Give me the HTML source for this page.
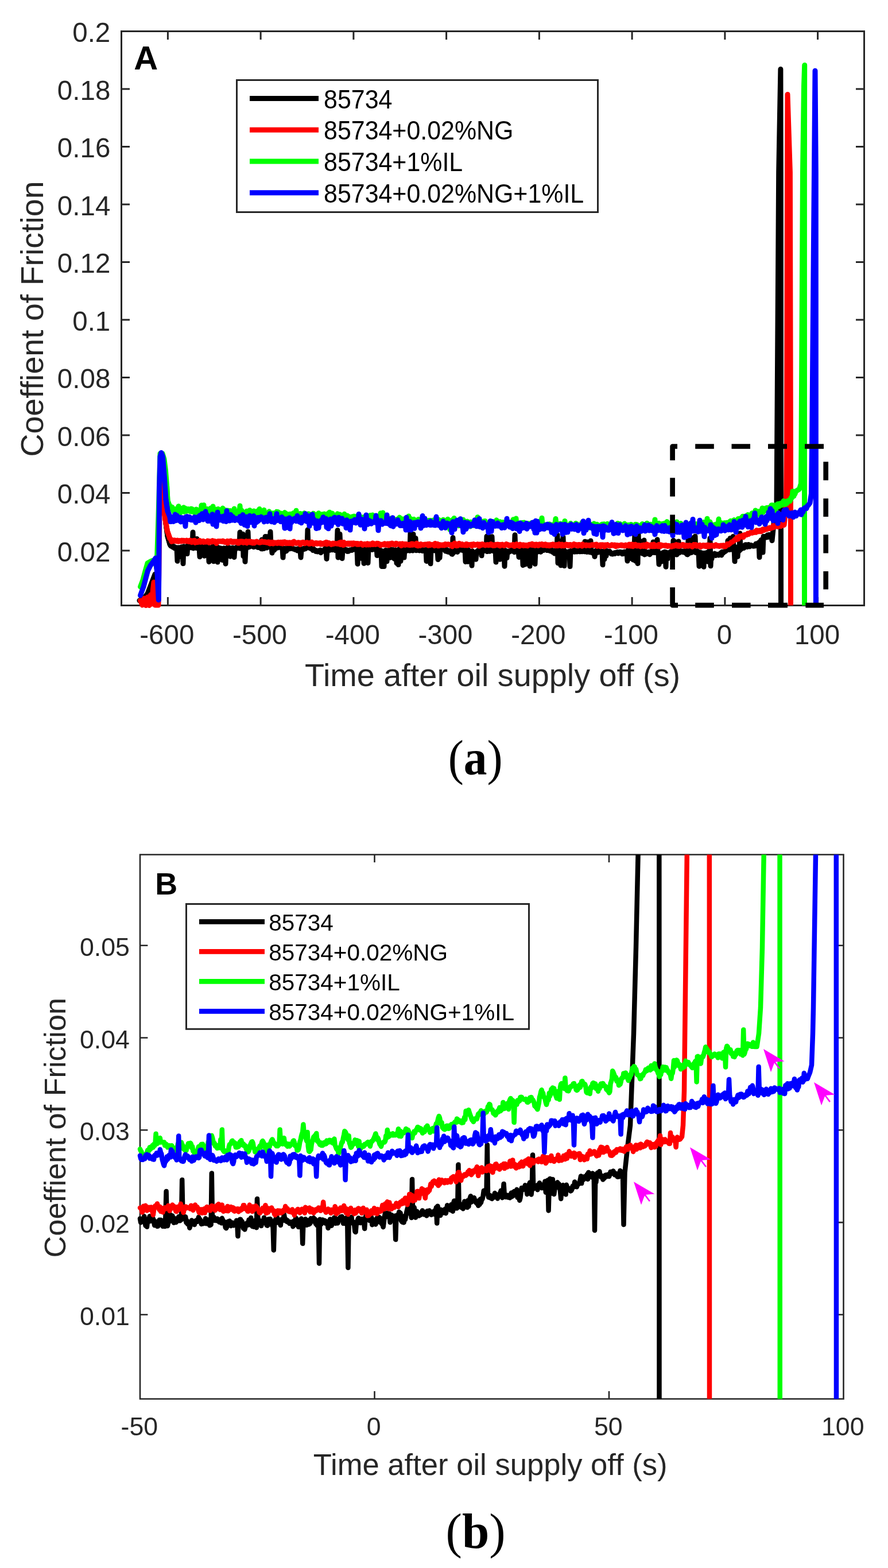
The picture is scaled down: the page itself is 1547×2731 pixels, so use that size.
<!DOCTYPE html>
<html><head><meta charset="utf-8"><title>Coefficient of friction vs time</title>
<style>html,body{margin:0;padding:0;background:#fff;}svg{display:block;}</style></head>
<body>
<svg width="1547" height="2731" viewBox="0 0 1547 2731">
<rect width="1547" height="2731" fill="#fff"/>
<defs><clipPath id="ca"><rect x="200" y="54.5" width="1320" height="1000.0"/></clipPath><clipPath id="cb"><rect x="230" y="1488.5" width="1239.5" height="948"/></clipPath></defs>
<path d="M211.5,54.5 H1505.5 V1054.5 H211.5 Z M292.4,1054.5 v-14.5 M292.4,54.5 v14.5 M454.1,1054.5 v-14.5 M454.1,54.5 v14.5 M615.9,1054.5 v-14.5 M615.9,54.5 v14.5 M777.6,1054.5 v-14.5 M777.6,54.5 v14.5 M939.4,1054.5 v-14.5 M939.4,54.5 v14.5 M1101.1,1054.5 v-14.5 M1101.1,54.5 v14.5 M1262.9,1054.5 v-14.5 M1262.9,54.5 v14.5 M1424.6,1054.5 v-14.5 M1424.6,54.5 v14.5 M211.5,959.0 h14.5 M1505.5,959.0 h-14.5 M211.5,858.5 h14.5 M1505.5,858.5 h-14.5 M211.5,758.0 h14.5 M1505.5,758.0 h-14.5 M211.5,657.5 h14.5 M1505.5,657.5 h-14.5 M211.5,557.0 h14.5 M1505.5,557.0 h-14.5 M211.5,456.5 h14.5 M1505.5,456.5 h-14.5 M211.5,356.0 h14.5 M1505.5,356.0 h-14.5 M211.5,255.5 h14.5 M1505.5,255.5 h-14.5 M211.5,155.0 h14.5 M1505.5,155.0 h-14.5 M211.5,54.5 h14.5 M1505.5,54.5 h-14.5" fill="none" stroke="#262626" stroke-width="3"/>
<polyline points="243.0,1046.0 250.0,1043.0 257.0,1034.0 264.0,1016.0 270.0,1000.0 272.5,1052.0 275.0,1052.0 277.0,900.0 279.5,800.0 282.0,820.0 285.0,880.0 289.0,912.0 292.0,934.0 296.0,948.0 297.0,949.9 298.0,951.0 299.0,950.6" fill="none" stroke="#000" stroke-width="9" stroke-linejoin="round" stroke-linecap="round"/>
<g clip-path="url(#ca)"><polyline points="289.0,912.0 292.0,934.0 296.0,948.0 297.0,949.9 298.0,951.0 299.0,950.6 300.0,950.8 301.0,952.9 302.0,952.2 303.0,951.6 304.0,954.8 305.0,954.4 306.0,955.3 307.0,953.6 308.0,954.0 309.0,977.3 310.0,953.7 311.0,955.0 312.0,953.7 313.0,955.2 314.0,955.1 315.0,969.7 316.0,952.8 317.0,955.7 318.0,954.1 319.0,981.6 320.0,951.7 321.0,952.7 322.0,954.0 323.0,952.6 324.0,952.5 325.0,951.8 326.0,964.6 327.0,951.5 328.0,948.4 329.0,950.0 330.0,948.4 331.0,947.2 332.0,951.1 333.0,954.0 334.0,952.8 335.0,951.7 336.0,927.1 337.0,954.9 338.0,953.6 339.0,953.5 340.0,953.4 341.0,953.6 342.0,954.6 343.0,938.4 344.0,953.9 345.0,952.3 346.0,954.4 347.0,952.9 348.0,969.8 349.0,952.2 350.0,953.5 351.0,953.4 352.0,951.4 353.0,955.1 354.0,954.5 355.0,951.7 356.0,968.3 357.0,952.2 358.0,948.1 359.0,951.5 360.0,961.7 361.0,952.0 362.0,950.9 363.0,952.4 364.0,978.4 365.0,955.1 366.0,954.4 367.0,954.4 368.0,956.6 369.0,953.5 370.0,953.5 371.0,951.3 372.0,977.7 373.0,954.3 374.0,953.9 375.0,953.3 376.0,952.3 377.0,952.3 378.0,952.2 379.0,979.0 380.0,953.6 381.0,956.0 382.0,955.2 383.0,954.9 384.0,954.8 385.0,955.2 386.0,958.6 387.0,975.4 388.0,956.7 389.0,955.9 390.0,954.7 391.0,955.9 392.0,956.9 393.0,981.9 394.0,955.1 395.0,955.0 396.0,955.2 397.0,952.9 398.0,954.6 399.0,953.8 400.0,956.1 401.0,969.2 402.0,955.6 403.0,956.9 404.0,954.5 405.0,954.1 406.0,955.1 407.0,954.8 408.0,970.5 409.0,955.2 410.0,957.1 411.0,954.0 412.0,953.9 413.0,952.6 414.0,954.2 415.0,952.0 416.0,952.1 417.0,955.0 418.0,927.0 419.0,954.8 420.0,955.5 421.0,954.0 422.0,954.5 423.0,930.2 424.0,968.8 425.0,953.4 426.0,952.6 427.0,978.3 428.0,956.5 429.0,955.5 430.0,952.6 431.0,952.4 432.0,926.3 433.0,953.1 434.0,952.0 435.0,952.2 436.0,951.9 437.0,950.8 438.0,950.7 439.0,950.7 440.0,949.9 441.0,950.8 442.0,952.8 443.0,951.4 444.0,951.0 445.0,949.0 446.0,951.9 447.0,949.2 448.0,950.1 449.0,953.4 450.0,953.6 451.0,952.9 452.0,951.3 453.0,953.5 454.0,953.5 455.0,955.7 456.0,940.1 457.0,956.0 458.0,955.1 459.0,954.5 460.0,955.4 461.0,954.7 462.0,934.5 463.0,954.0 464.0,951.8 465.0,954.2 466.0,934.7 467.0,953.1 468.0,950.6 469.0,951.3 470.0,950.0 471.0,926.2 472.0,951.9 473.0,951.9 474.0,963.1 475.0,957.2 476.0,957.2 477.0,957.7 478.0,958.0 479.0,953.8 480.0,954.3 481.0,954.9 482.0,954.5 483.0,952.8 484.0,954.0 485.0,952.2 486.0,949.7 487.0,950.6 488.0,953.4 489.0,953.5 490.0,950.9 491.0,955.7 492.0,955.3 493.0,971.1 494.0,955.1 495.0,955.7 496.0,955.2 497.0,960.5 498.0,957.5 499.0,959.6 500.0,956.1 501.0,956.6 502.0,953.7 503.0,954.8 504.0,956.0 505.0,952.5 506.0,955.5 507.0,955.0 508.0,953.6 509.0,954.8 510.0,955.3 511.0,956.2 512.0,956.0 513.0,956.1 514.0,957.2 515.0,956.7 516.0,956.5 517.0,958.0 518.0,959.0 519.0,955.8 520.0,957.7 521.0,956.7 522.0,956.1 523.0,958.4 524.0,970.9 525.0,959.0 526.0,955.9 527.0,957.3 528.0,956.3 529.0,955.2 530.0,956.5 531.0,955.1 532.0,955.7 533.0,954.4 534.0,952.6 535.0,953.5 536.0,922.7 537.0,954.0 538.0,951.5 539.0,953.3 540.0,951.7 541.0,955.4 542.0,953.7 543.0,953.4 544.0,956.3 545.0,958.4 546.0,955.6 547.0,956.7 548.0,957.8 549.0,957.9 550.0,960.4 551.0,958.9 552.0,959.1 553.0,960.9 554.0,959.2 555.0,960.8 556.0,959.0 557.0,958.8 558.0,958.1 559.0,962.7 560.0,959.4 561.0,959.7 562.0,959.0 563.0,958.8 564.0,958.3 565.0,960.3 566.0,956.1 567.0,955.0 568.0,955.4 569.0,973.4 570.0,957.6 571.0,957.6 572.0,955.3 573.0,954.7 574.0,956.0 575.0,958.2 576.0,952.7 577.0,957.0 578.0,954.9 579.0,957.7 580.0,955.0 581.0,956.0 582.0,954.5 583.0,955.2 584.0,958.4 585.0,957.7 586.0,956.1 587.0,955.4 588.0,923.6 589.0,970.9 590.0,955.8 591.0,955.5 592.0,930.3 593.0,953.7 594.0,954.9 595.0,954.7 596.0,972.7 597.0,957.9 598.0,955.8 599.0,955.5 600.0,956.9 601.0,956.8 602.0,957.1 603.0,958.5 604.0,957.7 605.0,960.4 606.0,959.9 607.0,960.2 608.0,959.4 609.0,958.3 610.0,957.7 611.0,958.3 612.0,957.6 613.0,958.3 614.0,957.6 615.0,955.5 616.0,957.1 617.0,954.9 618.0,955.5 619.0,955.7 620.0,953.6 621.0,956.6 622.0,956.9 623.0,982.3 624.0,956.5 625.0,956.7 626.0,956.1 627.0,957.0 628.0,956.4 629.0,957.1 630.0,972.6 631.0,957.0 632.0,956.7 633.0,956.1 634.0,981.3 635.0,970.1 636.0,953.7 637.0,956.3 638.0,956.0 639.0,956.1 640.0,956.3 641.0,980.4 642.0,955.6 643.0,956.9 644.0,956.7 645.0,956.4 646.0,954.1 647.0,956.7 648.0,957.4 649.0,957.1 650.0,956.0 651.0,953.5 652.0,956.7 653.0,955.2 654.0,952.0 655.0,955.6 656.0,953.1 657.0,967.6 658.0,954.0 659.0,956.4 660.0,954.8 661.0,956.6 662.0,959.6 663.0,960.4 664.0,959.2 665.0,986.5 666.0,959.7 667.0,960.1 668.0,961.2 669.0,986.6 670.0,960.2 671.0,977.1 672.0,958.3 673.0,958.9 674.0,977.7 675.0,959.1 676.0,959.4 677.0,958.4 678.0,957.7 679.0,958.8 680.0,971.3 681.0,956.7 682.0,959.8 683.0,959.2 684.0,960.0 685.0,957.6 686.0,959.5 687.0,973.4 688.0,959.4 689.0,957.8 690.0,960.3 691.0,980.9 692.0,960.7 693.0,959.1 694.0,983.6 695.0,960.3 696.0,955.4 697.0,958.6 698.0,977.2 699.0,959.2 700.0,960.4 701.0,959.5 702.0,958.3 703.0,958.1 704.0,971.1 705.0,956.7 706.0,957.2 707.0,958.3 708.0,959.5 709.0,956.6 710.0,956.7 711.0,957.2 712.0,958.8 713.0,957.1 714.0,959.2 715.0,927.3 716.0,957.2 717.0,957.3 718.0,958.7 719.0,959.1 720.0,930.6 721.0,956.4 722.0,958.0 723.0,956.6 724.0,937.6 725.0,958.7 726.0,958.0 727.0,957.9 728.0,956.6 729.0,958.5 730.0,957.1 731.0,959.1 732.0,956.7 733.0,957.0 734.0,958.6 735.0,957.6 736.0,959.6 737.0,958.9 738.0,957.3 739.0,958.5 740.0,957.9 741.0,959.5 742.0,957.4 743.0,977.5 744.0,959.6 745.0,960.9 746.0,960.5 747.0,957.9 748.0,958.0 749.0,959.8 750.0,981.8 751.0,956.6 752.0,958.0 753.0,958.5 754.0,956.8 755.0,955.8 756.0,956.1 757.0,958.9 758.0,957.0 759.0,957.5 760.0,957.8 761.0,958.1 762.0,956.6 763.0,974.6 764.0,955.4 765.0,955.9 766.0,971.5 767.0,957.3 768.0,955.6 769.0,954.4 770.0,954.9 771.0,955.3 772.0,956.7 773.0,953.9 774.0,954.8 775.0,955.9 776.0,959.9 777.0,958.0 778.0,957.2 779.0,958.8 780.0,961.2 781.0,958.8 782.0,959.2 783.0,961.8 784.0,961.4 785.0,962.2 786.0,961.3 787.0,965.0 788.0,965.3 789.0,936.6 790.0,962.7 791.0,958.3 792.0,961.0 793.0,959.1 794.0,959.1 795.0,958.6 796.0,956.8 797.0,961.4 798.0,957.5 799.0,956.0 800.0,956.4 801.0,956.0 802.0,956.3 803.0,953.6 804.0,958.1 805.0,956.8 806.0,957.8 807.0,958.9 808.0,956.6 809.0,954.6 810.0,956.2 811.0,978.4 812.0,957.5 813.0,958.6 814.0,956.3 815.0,978.2 816.0,957.7 817.0,960.4 818.0,960.2 819.0,960.2 820.0,960.8 821.0,960.5 822.0,985.1 823.0,959.7 824.0,962.1 825.0,964.9 826.0,965.4 827.0,964.0 828.0,962.6 829.0,974.2 830.0,962.5 831.0,960.0 832.0,959.4 833.0,958.5 834.0,958.5 835.0,957.2 836.0,957.2 837.0,955.3 838.0,955.7 839.0,967.8 840.0,955.6 841.0,955.8 842.0,957.2 843.0,957.9 844.0,955.9 845.0,957.5 846.0,959.4 847.0,959.0 848.0,934.0 849.0,960.6 850.0,957.6 851.0,958.5 852.0,934.4 853.0,960.2 854.0,955.6 855.0,957.2 856.0,957.3 857.0,934.8 858.0,958.6 859.0,959.6 860.0,955.6 861.0,958.3 862.0,956.6 863.0,955.8 864.0,979.0 865.0,954.7 866.0,952.9 867.0,954.7 868.0,952.9 869.0,954.4 870.0,956.4 871.0,974.3 872.0,959.3 873.0,957.6 874.0,956.5 875.0,958.2 876.0,958.6 877.0,958.9 878.0,961.7 879.0,986.2 880.0,958.4 881.0,961.7 882.0,960.5 883.0,971.5 884.0,960.4 885.0,960.9 886.0,959.9 887.0,961.3 888.0,960.0 889.0,959.9 890.0,960.0 891.0,957.6 892.0,959.3 893.0,959.2 894.0,959.8 895.0,957.8 896.0,961.7 897.0,931.7 898.0,958.1 899.0,957.4 900.0,958.9 901.0,958.9 902.0,957.8 903.0,958.6 904.0,970.4 905.0,958.6 906.0,956.6 907.0,957.8 908.0,959.4 909.0,961.8 910.0,957.4 911.0,984.4 912.0,958.2 913.0,960.6 914.0,958.3 915.0,982.9 916.0,960.4 917.0,959.4 918.0,959.4 919.0,959.8 920.0,957.4 921.0,957.9 922.0,959.0 923.0,986.0 924.0,958.7 925.0,956.4 926.0,957.8 927.0,959.4 928.0,959.2 929.0,973.3 930.0,957.5 931.0,959.6 932.0,982.2 933.0,957.4 934.0,958.0 935.0,961.1 936.0,959.6 937.0,960.9 938.0,958.6 939.0,960.1 940.0,957.8 941.0,958.1 942.0,961.3 943.0,958.7 944.0,956.8 945.0,957.1 946.0,957.4 947.0,958.5 948.0,956.3 949.0,954.7 950.0,956.5 951.0,956.9 952.0,957.0 953.0,958.6 954.0,957.3 955.0,957.9 956.0,955.4 957.0,958.0 958.0,959.5 959.0,957.8 960.0,957.1 961.0,958.0 962.0,961.2 963.0,958.7 964.0,960.8 965.0,962.6 966.0,964.1 967.0,962.6 968.0,963.2 969.0,962.1 970.0,962.2 971.0,932.1 972.0,980.7 973.0,960.9 974.0,961.7 975.0,958.9 976.0,942.8 977.0,984.8 978.0,957.6 979.0,959.1 980.0,957.8 981.0,935.4 982.0,962.7 983.0,985.5 984.0,959.9 985.0,961.4 986.0,960.9 987.0,961.0 988.0,962.8 989.0,968.1 990.0,962.1 991.0,960.6 992.0,962.4 993.0,986.6 994.0,959.6 995.0,960.8 996.0,961.3 997.0,960.4 998.0,960.9 999.0,959.5 1000.0,957.3 1001.0,961.2 1002.0,960.8 1003.0,960.0 1004.0,959.8 1005.0,960.9 1006.0,958.9 1007.0,958.4 1008.0,959.0 1009.0,960.7 1010.0,957.3 1011.0,960.7 1012.0,958.3 1013.0,957.7 1014.0,960.7 1015.0,958.9 1016.0,957.4 1017.0,958.8 1018.0,960.7 1019.0,943.2 1020.0,959.4 1021.0,960.7 1022.0,961.4 1023.0,944.0 1024.0,961.3 1025.0,961.1 1026.0,960.6 1027.0,960.9 1028.0,961.9 1029.0,941.9 1030.0,961.3 1031.0,961.2 1032.0,963.0 1033.0,961.6 1034.0,962.2 1035.0,962.4 1036.0,969.5 1037.0,963.4 1038.0,959.1 1039.0,961.0 1040.0,959.4 1041.0,962.2 1042.0,962.1 1043.0,957.4 1044.0,958.7 1045.0,960.9 1046.0,961.1 1047.0,961.1 1048.0,960.1 1049.0,960.8 1050.0,983.8 1051.0,960.2 1052.0,961.7 1053.0,974.0 1054.0,961.3 1055.0,959.2 1056.0,968.2 1057.0,960.4 1058.0,959.6 1059.0,961.6 1060.0,960.3 1061.0,960.7 1062.0,960.2 1063.0,962.6 1064.0,963.7 1065.0,964.8 1066.0,963.6 1067.0,965.0 1068.0,963.6 1069.0,963.3 1070.0,964.1 1071.0,964.6 1072.0,962.6 1073.0,962.7 1074.0,962.6 1075.0,962.8 1076.0,961.4 1077.0,963.9 1078.0,962.0 1079.0,963.1 1080.0,961.3 1081.0,962.8 1082.0,962.8 1083.0,961.7 1084.0,964.8 1085.0,962.6 1086.0,964.4 1087.0,963.3 1088.0,961.2 1089.0,961.5 1090.0,962.5 1091.0,961.7 1092.0,961.4 1093.0,977.0 1094.0,958.4 1095.0,960.1 1096.0,957.2 1097.0,960.3 1098.0,972.6 1099.0,958.3 1100.0,958.7 1101.0,959.1 1102.0,956.6 1103.0,975.1 1104.0,956.6 1105.0,955.1 1106.0,928.3 1107.0,977.0 1108.0,956.9 1109.0,959.6 1110.0,957.4 1111.0,981.5 1112.0,929.4 1113.0,960.5 1114.0,961.8 1115.0,942.6 1116.0,962.2 1117.0,962.5 1118.0,961.6 1119.0,964.0 1120.0,963.3 1121.0,964.7 1122.0,941.1 1123.0,965.9 1124.0,961.1 1125.0,963.3 1126.0,964.8 1127.0,963.2 1128.0,962.7 1129.0,963.2 1130.0,961.4 1131.0,963.1 1132.0,965.8 1133.0,963.8 1134.0,960.6 1135.0,960.6 1136.0,961.0 1137.0,962.5 1138.0,943.9 1139.0,960.2 1140.0,962.4 1141.0,962.6 1142.0,961.2 1143.0,960.4 1144.0,960.0 1145.0,939.8 1146.0,959.6 1147.0,963.6 1148.0,983.0 1149.0,963.4 1150.0,965.3 1151.0,964.5 1152.0,978.3 1153.0,964.2 1154.0,964.7 1155.0,962.3 1156.0,962.1 1157.0,963.2 1158.0,961.3 1159.0,965.3 1160.0,987.3 1161.0,962.0 1162.0,963.1 1163.0,973.4 1164.0,963.7 1165.0,963.9 1166.0,963.3 1167.0,965.1 1168.0,960.8 1169.0,963.7 1170.0,962.8 1171.0,963.9 1172.0,964.0 1173.0,941.2 1174.0,963.0 1175.0,964.9 1176.0,964.2 1177.0,943.9 1178.0,965.9 1179.0,966.0 1180.0,960.8 1181.0,962.9 1182.0,943.0 1183.0,963.0 1184.0,962.0 1185.0,961.2 1186.0,960.6 1187.0,960.7 1188.0,960.1 1189.0,961.5 1190.0,960.1 1191.0,960.7 1192.0,960.3 1193.0,962.5 1194.0,962.0 1195.0,963.6 1196.0,950.2 1197.0,965.6 1198.0,965.9 1199.0,940.3 1200.0,964.0 1201.0,963.0 1202.0,962.1 1203.0,962.8 1204.0,959.7 1205.0,962.2 1206.0,937.1 1207.0,958.1 1208.0,957.8 1209.0,958.2 1210.0,959.9 1211.0,934.1 1212.0,962.4 1213.0,960.5 1214.0,959.2 1215.0,961.8 1216.0,960.8 1217.0,963.9 1218.0,986.2 1219.0,964.6 1220.0,962.0 1221.0,962.7 1222.0,965.9 1223.0,963.9 1224.0,963.4 1225.0,964.7 1226.0,987.2 1227.0,964.9 1228.0,963.3 1229.0,963.5 1230.0,964.0 1231.0,962.6 1232.0,962.2 1233.0,978.2 1234.0,962.6 1235.0,964.0 1236.0,964.4 1237.0,937.4 1238.0,985.7 1239.0,964.8 1240.0,973.1 1241.0,966.0 1242.0,967.0 1243.0,965.2 1244.0,965.0 1245.0,964.2 1246.0,965.3 1247.0,967.5 1248.0,966.7 1249.0,965.2 1250.0,966.0 1251.0,966.4 1252.0,966.9 1253.0,965.3 1254.0,965.7 1255.0,963.5 1256.0,963.9 1257.0,966.9 1258.0,961.3 1259.0,963.0 1260.0,963.1 1261.0,961.7 1262.0,960.5 1263.0,960.8 1264.0,960.0 1265.0,959.0 1266.0,955.9 1267.0,957.8 1268.0,941.5 1269.0,956.7 1270.0,957.4 1271.0,957.6 1272.0,937.4 1273.0,955.4 1274.0,957.0 1275.0,957.0 1276.0,956.6 1277.0,934.5 1278.0,954.3 1279.0,953.9 1280.0,977.7 1281.0,952.5 1282.0,955.1 1283.0,954.7 1284.0,955.5 1285.0,969.4 1286.0,955.9 1287.0,957.6 1288.0,959.3 1289.0,929.0 1290.0,957.2 1291.0,956.2 1292.0,954.5 1293.0,955.3 1294.0,953.6 1295.0,953.8 1296.0,954.5 1297.0,951.3 1298.0,949.0 1299.0,949.8 1300.0,948.9 1301.0,949.2 1302.0,952.4 1303.0,950.9 1304.0,948.5 1305.0,951.3 1306.0,952.0 1307.0,949.8 1308.0,949.4 1309.0,949.7 1310.0,950.3 1311.0,950.7 1312.0,951.2 1313.0,951.2 1314.0,951.0 1315.0,951.1 1316.0,950.0 1317.0,946.9 1318.0,948.5 1319.0,948.9 1320.0,947.3 1321.0,947.8 1322.0,944.8 1323.0,970.6 1324.0,944.6 1325.0,942.3 1326.0,940.5 1327.0,940.1 1328.0,939.8 1329.0,962.0 1330.0,934.2 1331.0,935.9 1332.0,935.7 1333.0,934.4 1334.0,935.4 1335.0,936.1 1336.0,933.3 1337.0,931.9 1338.0,935.4 1339.0,932.2 1340.0,931.3 1341.0,933.3 1342.0,933.7 1343.0,932.4 1344.0,934.4 1345.0,941.6 1348.0,912.0 1350.0,890.0 1353.0,880.0 1356.7,300.0 1359.9,120.5 1360.3,300.0 1360.4,780.0 1360.5,1070.0" fill="none" stroke="#000" stroke-width="9" stroke-linejoin="round" stroke-linecap="round"/></g>
<polyline points="244.5,1046.0 248.0,1054.0 251.0,1042.0 254.0,1054.5 257.0,1040.0 260.0,1054.5 262.5,1036.0 264.5,1052.0 266.5,1026.0 268.0,1014.0 270.5,1054.0 276.0,1054.0 278.0,900.0 280.5,805.0 283.5,818.0 285.5,880.0 288.0,905.0 291.5,925.0 296.0,938.0 297.0,938.9 298.0,939.9 299.0,943.3" fill="none" stroke="#f00" stroke-width="9" stroke-linejoin="round" stroke-linecap="round"/>
<g clip-path="url(#ca)"><polyline points="288.0,905.0 291.5,925.0 296.0,938.0 297.0,938.9 298.0,939.9 299.0,943.3 300.0,940.5 301.0,942.2 302.0,942.6 303.0,942.7 304.0,940.8 305.0,941.8 306.0,942.2 307.0,942.9 308.0,941.5 309.0,941.0 310.0,943.2 311.0,943.3 312.0,942.6 313.0,941.6 314.0,942.7 315.0,942.4 316.0,943.1 317.0,941.0 318.0,942.4 319.0,942.2 320.0,941.2 321.0,942.6 322.0,942.4 323.0,942.0 324.0,942.8 325.0,941.0 326.0,942.4 327.0,942.9 328.0,942.8 329.0,943.6 330.0,941.3 331.0,941.0 332.0,942.8 333.0,943.0 334.0,944.7 335.0,943.2 336.0,941.8 337.0,943.5 338.0,941.8 339.0,941.2 340.0,945.3 341.0,943.0 342.0,943.4 343.0,943.3 344.0,944.6 345.0,943.1 346.0,944.0 347.0,941.8 348.0,941.4 349.0,944.3 350.0,944.3 351.0,943.4 352.0,943.1 353.0,943.1 354.0,942.3 355.0,944.5 356.0,943.6 357.0,943.5 358.0,943.4 359.0,944.1 360.0,943.6 361.0,943.8 362.0,941.9 363.0,943.6 364.0,945.3 365.0,942.6 366.0,943.0 367.0,944.1 368.0,944.1 369.0,943.8 370.0,941.6 371.0,943.7 372.0,942.1 373.0,942.5 374.0,943.8 375.0,943.0 376.0,944.1 377.0,946.5 378.0,944.1 379.0,944.1 380.0,942.5 381.0,942.8 382.0,942.4 383.0,942.9 384.0,942.4 385.0,942.8 386.0,943.3 387.0,942.5 388.0,942.1 389.0,942.2 390.0,944.0 391.0,943.7 392.0,944.6 393.0,944.7 394.0,943.3 395.0,944.3 396.0,942.2 397.0,946.0 398.0,944.9 399.0,943.5 400.0,942.6 401.0,944.1 402.0,941.9 403.0,943.0 404.0,944.6 405.0,943.9 406.0,943.4 407.0,944.8 408.0,942.9 409.0,944.2 410.0,943.4 411.0,943.1 412.0,944.4 413.0,943.0 414.0,945.9 415.0,943.4 416.0,946.0 417.0,943.0 418.0,944.7 419.0,942.9 420.0,942.8 421.0,944.3 422.0,944.8 423.0,942.9 424.0,945.4 425.0,943.4 426.0,944.3 427.0,944.6 428.0,944.8 429.0,942.5 430.0,945.9 431.0,944.9 432.0,943.9 433.0,943.3 434.0,942.7 435.0,943.0 436.0,944.9 437.0,944.1 438.0,943.3 439.0,943.9 440.0,946.0 441.0,944.1 442.0,943.9 443.0,945.9 444.0,945.0 445.0,944.6 446.0,943.9 447.0,943.0 448.0,943.4 449.0,944.1 450.0,944.4 451.0,945.0 452.0,945.2 453.0,944.9 454.0,944.9 455.0,943.7 456.0,942.6 457.0,944.2 458.0,943.8 459.0,944.1 460.0,944.5 461.0,943.6 462.0,943.7 463.0,944.8 464.0,945.0 465.0,944.2 466.0,945.4 467.0,944.7 468.0,943.9 469.0,945.0 470.0,946.9 471.0,944.3 472.0,946.2 473.0,946.4 474.0,946.5 475.0,944.2 476.0,947.1 477.0,945.2 478.0,944.9 479.0,944.9 480.0,945.8 481.0,945.2 482.0,945.0 483.0,946.5 484.0,944.5 485.0,944.2 486.0,946.0 487.0,946.0 488.0,946.4 489.0,944.2 490.0,946.4 491.0,945.8 492.0,947.1 493.0,944.1 494.0,945.6 495.0,945.1 496.0,943.8 497.0,944.7 498.0,946.6 499.0,945.0 500.0,944.8 501.0,946.4 502.0,946.5 503.0,946.5 504.0,944.8 505.0,945.5 506.0,946.6 507.0,944.9 508.0,944.9 509.0,946.5 510.0,947.2 511.0,944.5 512.0,943.1 513.0,944.2 514.0,944.7 515.0,945.6 516.0,946.4 517.0,945.6 518.0,945.1 519.0,945.9 520.0,944.8 521.0,945.8 522.0,945.2 523.0,948.5 524.0,946.7 525.0,945.0 526.0,944.9 527.0,945.5 528.0,944.3 529.0,945.2 530.0,945.2 531.0,946.8 532.0,945.6 533.0,945.2 534.0,944.7 535.0,944.8 536.0,946.0 537.0,945.8 538.0,947.2 539.0,945.5 540.0,947.2 541.0,946.4 542.0,946.1 543.0,944.1 544.0,944.9 545.0,946.9 546.0,947.6 547.0,946.4 548.0,947.0 549.0,945.8 550.0,945.9 551.0,945.6 552.0,947.3 553.0,946.6 554.0,946.1 555.0,946.0 556.0,946.9 557.0,946.7 558.0,945.5 559.0,948.1 560.0,946.7 561.0,946.4 562.0,947.9 563.0,947.5 564.0,946.4 565.0,947.0 566.0,945.4 567.0,945.9 568.0,944.3 569.0,947.8 570.0,944.7 571.0,947.2 572.0,945.7 573.0,945.6 574.0,946.4 575.0,946.9 576.0,947.3 577.0,948.4 578.0,947.0 579.0,947.6 580.0,946.1 581.0,947.4 582.0,946.9 583.0,946.3 584.0,946.7 585.0,946.7 586.0,947.0 587.0,947.2 588.0,946.3 589.0,946.1 590.0,947.6 591.0,945.2 592.0,946.3 593.0,948.4 594.0,944.2 595.0,946.2 596.0,947.6 597.0,945.3 598.0,949.6 599.0,944.4 600.0,948.4 601.0,948.6 602.0,947.9 603.0,946.8 604.0,947.4 605.0,946.2 606.0,947.9 607.0,946.0 608.0,946.8 609.0,948.1 610.0,946.0 611.0,946.8 612.0,947.3 613.0,945.9 614.0,948.4 615.0,947.6 616.0,945.7 617.0,947.2 618.0,946.5 619.0,946.6 620.0,947.4 621.0,946.6 622.0,948.3 623.0,946.6 624.0,948.3 625.0,947.3 626.0,948.2 627.0,946.9 628.0,946.9 629.0,946.3 630.0,948.0 631.0,948.4 632.0,949.6 633.0,948.8 634.0,947.8 635.0,947.3 636.0,947.9 637.0,947.5 638.0,949.0 639.0,948.5 640.0,946.8 641.0,946.9 642.0,949.0 643.0,948.0 644.0,947.4 645.0,948.9 646.0,947.3 647.0,947.4 648.0,947.3 649.0,945.8 650.0,948.6 651.0,946.6 652.0,947.2 653.0,947.1 654.0,948.5 655.0,947.8 656.0,947.9 657.0,946.2 658.0,947.8 659.0,946.4 660.0,948.2 661.0,948.3 662.0,947.9 663.0,950.0 664.0,948.5 665.0,948.6 666.0,948.1 667.0,947.8 668.0,949.0 669.0,949.1 670.0,946.7 671.0,949.1 672.0,948.6 673.0,949.1 674.0,948.6 675.0,946.9 676.0,947.0 677.0,950.0 678.0,948.4 679.0,946.8 680.0,948.5 681.0,947.9 682.0,946.4 683.0,946.0 684.0,946.7 685.0,948.5 686.0,948.2 687.0,948.1 688.0,948.6 689.0,948.9 690.0,946.2 691.0,948.1 692.0,947.6 693.0,947.2 694.0,947.9 695.0,948.3 696.0,948.2 697.0,947.0 698.0,948.0 699.0,950.5 700.0,947.4 701.0,946.8 702.0,948.8 703.0,949.1 704.0,949.0 705.0,947.4 706.0,949.5 707.0,947.7 708.0,947.4 709.0,947.9 710.0,948.4 711.0,949.2 712.0,949.2 713.0,948.5 714.0,949.5 715.0,948.6 716.0,949.4 717.0,947.1 718.0,947.0 719.0,949.3 720.0,947.2 721.0,948.3 722.0,948.5 723.0,948.1 724.0,948.1 725.0,950.0 726.0,946.0 727.0,949.5 728.0,950.9 729.0,948.6 730.0,948.6 731.0,949.3 732.0,950.4 733.0,947.4 734.0,948.7 735.0,948.4 736.0,949.1 737.0,948.8 738.0,949.3 739.0,948.2 740.0,948.6 741.0,947.9 742.0,947.9 743.0,948.5 744.0,948.5 745.0,947.4 746.0,950.2 747.0,948.5 748.0,947.2 749.0,949.7 750.0,947.9 751.0,949.1 752.0,948.6 753.0,948.9 754.0,948.8 755.0,948.1 756.0,948.7 757.0,950.7 758.0,946.4 759.0,948.7 760.0,949.1 761.0,947.6 762.0,947.3 763.0,950.8 764.0,948.3 765.0,950.7 766.0,949.2 767.0,948.7 768.0,949.1 769.0,949.3 770.0,949.9 771.0,949.1 772.0,948.8 773.0,948.9 774.0,950.0 775.0,949.5 776.0,947.7 777.0,948.1 778.0,949.0 779.0,948.1 780.0,948.3 781.0,947.7 782.0,948.4 783.0,949.1 784.0,949.7 785.0,948.7 786.0,950.8 787.0,948.6 788.0,951.9 789.0,949.7 790.0,949.2 791.0,948.2 792.0,945.9 793.0,948.6 794.0,948.9 795.0,950.7 796.0,947.4 797.0,950.6 798.0,948.5 799.0,949.5 800.0,946.2 801.0,948.9 802.0,948.4 803.0,949.4 804.0,948.9 805.0,947.6 806.0,949.7 807.0,949.5 808.0,949.4 809.0,949.8 810.0,949.9 811.0,948.8 812.0,947.4 813.0,947.4 814.0,950.1 815.0,949.5 816.0,948.9 817.0,948.4 818.0,948.8 819.0,948.8 820.0,948.5 821.0,948.1 822.0,951.0 823.0,949.0 824.0,948.2 825.0,947.5 826.0,948.1 827.0,949.5 828.0,949.6 829.0,948.6 830.0,948.9 831.0,948.5 832.0,947.7 833.0,950.1 834.0,949.2 835.0,951.3 836.0,948.1 837.0,948.7 838.0,949.7 839.0,948.6 840.0,947.5 841.0,947.9 842.0,949.0 843.0,949.2 844.0,948.8 845.0,949.9 846.0,949.9 847.0,949.2 848.0,948.9 849.0,948.6 850.0,949.4 851.0,949.8 852.0,948.9 853.0,949.3 854.0,948.6 855.0,947.5 856.0,947.9 857.0,949.7 858.0,949.3 859.0,950.5 860.0,949.0 861.0,949.8 862.0,950.2 863.0,949.9 864.0,948.3 865.0,948.7 866.0,949.0 867.0,947.9 868.0,949.4 869.0,949.9 870.0,948.4 871.0,950.9 872.0,948.6 873.0,948.7 874.0,948.7 875.0,948.2 876.0,949.4 877.0,949.0 878.0,950.6 879.0,949.6 880.0,949.5 881.0,948.7 882.0,947.5 883.0,948.9 884.0,948.1 885.0,949.9 886.0,948.9 887.0,950.6 888.0,949.7 889.0,949.8 890.0,949.2 891.0,949.2 892.0,949.6 893.0,949.9 894.0,948.3 895.0,949.5 896.0,951.6 897.0,948.9 898.0,948.7 899.0,948.3 900.0,947.6 901.0,950.2 902.0,949.1 903.0,949.3 904.0,950.9 905.0,951.5 906.0,948.1 907.0,950.1 908.0,949.7 909.0,949.4 910.0,949.5 911.0,949.0 912.0,950.7 913.0,949.7 914.0,949.4 915.0,950.3 916.0,950.0 917.0,949.5 918.0,949.4 919.0,950.9 920.0,949.6 921.0,949.0 922.0,948.3 923.0,948.8 924.0,948.1 925.0,949.2 926.0,949.4 927.0,947.1 928.0,949.2 929.0,949.8 930.0,949.3 931.0,948.2 932.0,950.4 933.0,948.5 934.0,947.9 935.0,948.1 936.0,949.2 937.0,950.2 938.0,950.4 939.0,949.4 940.0,948.0 941.0,948.6 942.0,948.3 943.0,949.0 944.0,947.4 945.0,949.3 946.0,949.9 947.0,949.1 948.0,949.7 949.0,948.3 950.0,947.8 951.0,948.6 952.0,950.4 953.0,950.3 954.0,948.8 955.0,950.5 956.0,949.0 957.0,950.8 958.0,949.8 959.0,948.8 960.0,950.1 961.0,948.5 962.0,948.4 963.0,947.9 964.0,949.6 965.0,949.3 966.0,949.3 967.0,948.9 968.0,950.8 969.0,948.9 970.0,948.6 971.0,950.6 972.0,950.8 973.0,949.7 974.0,947.6 975.0,948.8 976.0,950.0 977.0,949.4 978.0,950.9 979.0,948.0 980.0,950.1 981.0,948.8 982.0,950.7 983.0,949.3 984.0,950.5 985.0,948.8 986.0,948.0 987.0,948.3 988.0,948.8 989.0,948.4 990.0,950.7 991.0,950.8 992.0,949.7 993.0,948.4 994.0,949.4 995.0,948.8 996.0,950.9 997.0,949.8 998.0,950.0 999.0,949.1 1000.0,947.5 1001.0,948.7 1002.0,948.4 1003.0,949.9 1004.0,949.6 1005.0,948.7 1006.0,949.1 1007.0,951.1 1008.0,948.6 1009.0,948.6 1010.0,949.3 1011.0,948.9 1012.0,949.1 1013.0,950.1 1014.0,951.3 1015.0,947.8 1016.0,949.6 1017.0,949.6 1018.0,949.5 1019.0,949.4 1020.0,949.3 1021.0,950.6 1022.0,949.1 1023.0,949.5 1024.0,949.6 1025.0,949.7 1026.0,949.5 1027.0,950.6 1028.0,949.6 1029.0,949.8 1030.0,949.6 1031.0,948.7 1032.0,948.8 1033.0,948.6 1034.0,949.9 1035.0,949.0 1036.0,948.6 1037.0,949.9 1038.0,950.2 1039.0,947.9 1040.0,951.4 1041.0,949.7 1042.0,949.6 1043.0,950.8 1044.0,949.8 1045.0,949.1 1046.0,951.9 1047.0,948.7 1048.0,949.6 1049.0,950.6 1050.0,948.7 1051.0,949.7 1052.0,950.1 1053.0,952.2 1054.0,948.9 1055.0,949.7 1056.0,950.4 1057.0,949.9 1058.0,948.6 1059.0,950.2 1060.0,949.9 1061.0,950.3 1062.0,950.9 1063.0,950.8 1064.0,950.2 1065.0,950.1 1066.0,948.7 1067.0,949.7 1068.0,950.1 1069.0,949.4 1070.0,949.9 1071.0,949.0 1072.0,951.4 1073.0,952.0 1074.0,949.5 1075.0,950.3 1076.0,949.6 1077.0,951.1 1078.0,950.3 1079.0,950.0 1080.0,949.7 1081.0,950.0 1082.0,948.9 1083.0,950.6 1084.0,949.2 1085.0,950.5 1086.0,950.1 1087.0,951.0 1088.0,949.9 1089.0,951.0 1090.0,949.0 1091.0,950.6 1092.0,949.7 1093.0,950.2 1094.0,950.0 1095.0,950.9 1096.0,948.0 1097.0,950.3 1098.0,948.5 1099.0,951.2 1100.0,948.0 1101.0,949.0 1102.0,948.3 1103.0,951.7 1104.0,948.7 1105.0,950.1 1106.0,949.5 1107.0,948.2 1108.0,949.7 1109.0,950.7 1110.0,949.9 1111.0,951.0 1112.0,949.7 1113.0,950.1 1114.0,949.7 1115.0,950.4 1116.0,952.0 1117.0,950.5 1118.0,950.3 1119.0,949.5 1120.0,949.4 1121.0,951.6 1122.0,949.0 1123.0,949.2 1124.0,950.0 1125.0,949.7 1126.0,952.1 1127.0,947.8 1128.0,950.5 1129.0,950.9 1130.0,949.1 1131.0,949.5 1132.0,950.6 1133.0,951.8 1134.0,949.3 1135.0,948.6 1136.0,951.2 1137.0,951.8 1138.0,949.9 1139.0,948.0 1140.0,951.7 1141.0,950.1 1142.0,951.4 1143.0,950.2 1144.0,949.9 1145.0,949.8 1146.0,951.8 1147.0,951.7 1148.0,948.2 1149.0,949.4 1150.0,952.1 1151.0,949.9 1152.0,949.0 1153.0,950.3 1154.0,950.2 1155.0,950.2 1156.0,949.9 1157.0,950.0 1158.0,949.9 1159.0,950.7 1160.0,949.6 1161.0,950.1 1162.0,950.2 1163.0,951.7 1164.0,950.8 1165.0,950.3 1166.0,950.9 1167.0,950.8 1168.0,951.5 1169.0,950.9 1170.0,952.2 1171.0,951.8 1172.0,950.4 1173.0,950.0 1174.0,951.3 1175.0,951.0 1176.0,950.4 1177.0,949.0 1178.0,948.6 1179.0,950.8 1180.0,951.3 1181.0,951.3 1182.0,949.2 1183.0,951.5 1184.0,950.0 1185.0,950.9 1186.0,950.9 1187.0,949.7 1188.0,949.9 1189.0,948.5 1190.0,949.6 1191.0,948.8 1192.0,951.0 1193.0,950.6 1194.0,951.5 1195.0,950.9 1196.0,950.0 1197.0,950.9 1198.0,950.2 1199.0,951.2 1200.0,950.9 1201.0,949.6 1202.0,950.6 1203.0,950.7 1204.0,950.3 1205.0,951.5 1206.0,952.4 1207.0,950.3 1208.0,950.3 1209.0,948.4 1210.0,950.5 1211.0,950.2 1212.0,948.5 1213.0,951.0 1214.0,951.3 1215.0,950.0 1216.0,950.3 1217.0,949.8 1218.0,951.5 1219.0,949.2 1220.0,950.4 1221.0,952.7 1222.0,950.8 1223.0,951.2 1224.0,950.6 1225.0,949.6 1226.0,950.7 1227.0,951.2 1228.0,949.8 1229.0,951.1 1230.0,952.0 1231.0,951.9 1232.0,949.2 1233.0,949.8 1234.0,949.2 1235.0,951.9 1236.0,951.4 1237.0,951.5 1238.0,950.0 1239.0,949.7 1240.0,950.9 1241.0,951.0 1242.0,950.0 1243.0,951.0 1244.0,951.5 1245.0,951.1 1246.0,949.9 1247.0,948.8 1248.0,950.6 1249.0,951.1 1250.0,950.7 1251.0,950.5 1252.0,950.2 1253.0,951.7 1254.0,950.9 1255.0,951.1 1256.0,950.0 1257.0,950.3 1258.0,951.1 1259.0,950.0 1260.0,949.7 1261.0,950.7 1262.0,952.2 1263.0,951.2 1264.0,951.9 1265.0,949.7 1266.0,948.9 1267.0,947.3 1268.0,947.5 1269.0,948.9 1270.0,947.2 1271.0,947.1 1272.0,946.5 1273.0,945.2 1274.0,944.4 1275.0,944.1 1276.0,944.0 1277.0,943.1 1278.0,942.5 1279.0,941.5 1280.0,939.9 1281.0,939.7 1282.0,938.4 1283.0,939.7 1284.0,935.9 1285.0,937.1 1286.0,939.1 1287.0,935.7 1288.0,934.2 1289.0,934.6 1290.0,935.3 1291.0,933.6 1292.0,934.1 1293.0,933.3 1294.0,932.5 1295.0,935.8 1296.0,932.4 1297.0,931.5 1298.0,931.3 1299.0,931.9 1300.0,931.6 1301.0,931.7 1302.0,930.8 1303.0,928.9 1304.0,930.6 1305.0,929.5 1306.0,929.2 1307.0,927.8 1308.0,928.4 1309.0,928.0 1310.0,928.4 1311.0,926.7 1312.0,927.9 1313.0,927.7 1314.0,926.2 1315.0,926.4 1316.0,925.9 1317.0,927.3 1318.0,923.6 1319.0,925.5 1320.0,923.9 1321.0,924.9 1322.0,925.9 1323.0,924.1 1324.0,924.6 1325.0,923.4 1326.0,925.9 1327.0,924.6 1328.0,924.5 1329.0,921.8 1330.0,921.7 1331.0,923.6 1332.0,922.0 1333.0,921.7 1334.0,922.0 1335.0,920.1 1336.0,921.9 1337.0,920.9 1338.0,921.0 1339.0,919.6 1340.0,920.5 1341.0,919.0 1342.0,920.4 1343.0,920.3 1344.0,919.8 1345.0,919.2 1346.0,919.0 1347.0,915.4 1348.0,918.7 1349.0,917.3 1350.0,917.4 1351.0,916.8 1352.0,915.4 1353.0,916.0 1354.0,916.9 1355.0,917.4 1356.0,915.1 1357.0,914.5 1358.0,916.6 1359.0,914.0 1360.0,916.7 1361.0,914.4 1362.0,913.2 1363.0,914.8 1364.0,915.2 1365.0,911.8 1366.0,914.6 1369.5,880.0 1370.5,780.0 1371.5,300.0 1372.0,164.5 1376.4,300.0 1377.4,780.0 1377.5,1070.0" fill="none" stroke="#f00" stroke-width="9" stroke-linejoin="round" stroke-linecap="round"/></g>
<polyline points="244.5,1022.0 249.0,1010.0 253.0,995.0 257.0,981.0 264.0,977.0 270.0,975.0 273.0,990.0 276.0,900.0 279.0,790.0 283.0,790.0 286.0,800.0 288.5,820.0 290.5,845.0 292.0,872.0 296.0,883.0 297.0,884.9 298.0,882.6 299.0,885.6" fill="none" stroke="#0f0" stroke-width="9" stroke-linejoin="round" stroke-linecap="round"/>
<g clip-path="url(#ca)"><polyline points="290.5,845.0 292.0,872.0 296.0,883.0 297.0,884.9 298.0,882.6 299.0,885.6 300.0,883.4 301.0,888.2 302.0,889.2 303.0,892.0 304.0,891.2 305.0,888.8 306.0,886.8 307.0,886.2 308.0,886.7 309.0,891.6 310.0,886.9 311.0,881.7 312.0,888.0 313.0,887.6 314.0,893.6 315.0,889.5 316.0,886.7 317.0,889.1 318.0,885.1 319.0,886.6 320.0,883.7 321.0,891.4 322.0,889.5 323.0,885.4 324.0,888.1 325.0,890.4 326.0,889.4 327.0,889.2 328.0,886.4 329.0,887.0 330.0,888.7 331.0,890.7 332.0,886.7 333.0,886.1 334.0,891.3 335.0,886.6 336.0,891.3 337.0,889.4 338.0,890.9 339.0,893.0 340.0,890.6 341.0,890.8 342.0,887.0 343.0,887.6 344.0,890.7 345.0,892.8 346.0,892.5 347.0,894.7 348.0,890.1 349.0,889.9 350.0,891.8 351.0,880.1 352.0,889.5 353.0,887.2 354.0,892.0 355.0,879.7 356.0,891.0 357.0,886.6 358.0,892.4 359.0,887.6 360.0,891.9 361.0,886.4 362.0,889.1 363.0,892.9 364.0,888.3 365.0,890.4 366.0,889.2 367.0,885.0 368.0,886.0 369.0,891.4 370.0,888.0 371.0,882.0 372.0,888.8 373.0,888.3 374.0,890.7 375.0,889.2 376.0,896.1 377.0,887.3 378.0,892.6 379.0,893.2 380.0,886.4 381.0,887.1 382.0,892.4 383.0,890.0 384.0,892.1 385.0,893.9 386.0,890.4 387.0,888.9 388.0,885.1 389.0,891.9 390.0,889.4 391.0,892.3 392.0,892.1 393.0,888.5 394.0,895.7 395.0,905.4 396.0,893.8 397.0,889.1 398.0,891.0 399.0,890.7 400.0,891.0 401.0,889.5 402.0,893.1 403.0,892.6 404.0,893.0 405.0,891.0 406.0,895.2 407.0,892.7 408.0,886.0 409.0,890.9 410.0,892.3 411.0,894.7 412.0,891.8 413.0,891.9 414.0,891.0 415.0,894.1 416.0,891.6 417.0,891.3 418.0,881.1 419.0,894.0 420.0,891.6 421.0,889.0 422.0,894.3 423.0,891.3 424.0,893.8 425.0,893.9 426.0,895.8 427.0,895.5 428.0,891.8 429.0,892.8 430.0,890.2 431.0,897.1 432.0,894.3 433.0,896.5 434.0,892.6 435.0,888.7 436.0,897.0 437.0,893.7 438.0,893.8 439.0,893.7 440.0,895.1 441.0,894.9 442.0,890.0 443.0,896.2 444.0,892.5 445.0,892.7 446.0,897.8 447.0,896.0 448.0,893.1 449.0,889.7 450.0,894.4 451.0,895.3 452.0,886.4 453.0,891.3 454.0,892.3 455.0,891.3 456.0,894.7 457.0,896.2 458.0,896.7 459.0,892.7 460.0,888.3 461.0,895.7 462.0,893.3 463.0,894.2 464.0,899.4 465.0,895.1 466.0,896.7 467.0,893.7 468.0,894.8 469.0,890.8 470.0,894.7 471.0,897.6 472.0,899.7 473.0,897.7 474.0,896.5 475.0,895.1 476.0,893.7 477.0,894.7 478.0,896.5 479.0,893.4 480.0,897.3 481.0,893.0 482.0,891.2 483.0,893.0 484.0,891.5 485.0,892.2 486.0,898.0 487.0,895.0 488.0,896.0 489.0,893.9 490.0,898.5 491.0,894.5 492.0,898.7 493.0,896.6 494.0,895.8 495.0,896.8 496.0,892.6 497.0,894.1 498.0,895.7 499.0,897.4 500.0,895.1 501.0,895.8 502.0,898.3 503.0,899.4 504.0,898.0 505.0,899.2 506.0,895.4 507.0,895.6 508.0,897.1 509.0,895.8 510.0,895.3 511.0,893.6 512.0,896.1 513.0,894.4 514.0,897.8 515.0,901.0 516.0,889.2 517.0,899.7 518.0,895.9 519.0,895.8 520.0,895.4 521.0,896.7 522.0,901.3 523.0,894.5 524.0,901.0 525.0,894.9 526.0,896.8 527.0,899.3 528.0,898.8 529.0,898.1 530.0,893.7 531.0,898.4 532.0,895.2 533.0,903.6 534.0,897.2 535.0,898.2 536.0,895.2 537.0,896.7 538.0,894.9 539.0,900.2 540.0,897.4 541.0,899.3 542.0,896.5 543.0,897.0 544.0,901.2 545.0,896.0 546.0,894.2 547.0,899.3 548.0,895.8 549.0,897.4 550.0,900.6 551.0,896.7 552.0,900.6 553.0,897.1 554.0,902.1 555.0,893.8 556.0,897.7 557.0,898.4 558.0,897.0 559.0,899.4 560.0,901.6 561.0,895.7 562.0,901.2 563.0,896.1 564.0,897.2 565.0,895.1 566.0,904.1 567.0,899.5 568.0,900.0 569.0,897.9 570.0,902.0 571.0,894.7 572.0,899.7 573.0,904.7 574.0,892.2 575.0,899.8 576.0,901.3 577.0,898.0 578.0,900.0 579.0,894.1 580.0,900.4 581.0,900.9 582.0,899.3 583.0,900.9 584.0,900.3 585.0,903.6 586.0,902.0 587.0,899.8 588.0,894.8 589.0,902.1 590.0,902.2 591.0,898.4 592.0,896.0 593.0,898.0 594.0,902.8 595.0,898.3 596.0,899.7 597.0,901.4 598.0,903.7 599.0,900.9 600.0,895.2 601.0,899.8 602.0,904.9 603.0,903.6 604.0,901.0 605.0,898.0 606.0,899.5 607.0,902.7 608.0,899.7 609.0,903.5 610.0,902.3 611.0,902.2 612.0,903.1 613.0,902.8 614.0,899.7 615.0,901.0 616.0,907.2 617.0,899.1 618.0,900.8 619.0,904.4 620.0,901.6 621.0,900.2 622.0,899.1 623.0,903.4 624.0,904.5 625.0,905.5 626.0,902.4 627.0,904.8 628.0,900.0 629.0,902.8 630.0,900.9 631.0,902.9 632.0,904.3 633.0,905.1 634.0,900.4 635.0,905.7 636.0,901.7 637.0,900.5 638.0,902.5 639.0,899.6 640.0,903.0 641.0,903.7 642.0,902.6 643.0,904.4 644.0,902.5 645.0,897.6 646.0,900.0 647.0,903.4 648.0,901.4 649.0,896.9 650.0,903.3 651.0,904.0 652.0,899.8 653.0,900.1 654.0,903.0 655.0,904.8 656.0,904.6 657.0,905.9 658.0,906.9 659.0,905.1 660.0,904.0 661.0,901.7 662.0,901.9 663.0,893.8 664.0,904.8 665.0,904.8 666.0,904.3 667.0,893.1 668.0,905.9 669.0,904.9 670.0,905.2 671.0,905.3 672.0,903.3 673.0,902.3 674.0,905.8 675.0,905.7 676.0,904.3 677.0,903.9 678.0,910.1 679.0,903.2 680.0,904.5 681.0,905.7 682.0,902.4 683.0,905.4 684.0,909.3 685.0,907.4 686.0,906.8 687.0,906.7 688.0,905.7 689.0,907.7 690.0,905.1 691.0,904.6 692.0,905.8 693.0,907.7 694.0,906.5 695.0,907.3 696.0,901.1 697.0,908.6 698.0,911.3 699.0,909.0 700.0,905.3 701.0,904.1 702.0,906.7 703.0,903.9 704.0,907.9 705.0,905.0 706.0,908.5 707.0,909.5 708.0,901.7 709.0,907.1 710.0,904.9 711.0,903.3 712.0,898.9 713.0,906.1 714.0,909.1 715.0,903.3 716.0,909.2 717.0,911.5 718.0,908.3 719.0,908.2 720.0,907.0 721.0,904.3 722.0,908.3 723.0,908.0 724.0,908.9 725.0,913.2 726.0,909.0 727.0,908.3 728.0,911.0 729.0,904.4 730.0,904.9 731.0,906.7 732.0,906.1 733.0,909.2 734.0,907.0 735.0,911.8 736.0,911.3 737.0,909.6 738.0,907.0 739.0,909.4 740.0,909.9 741.0,905.6 742.0,908.9 743.0,909.8 744.0,908.7 745.0,911.9 746.0,911.1 747.0,906.5 748.0,908.7 749.0,906.5 750.0,909.8 751.0,906.6 752.0,910.7 753.0,909.5 754.0,910.9 755.0,908.4 756.0,905.5 757.0,912.9 758.0,908.5 759.0,912.1 760.0,910.0 761.0,903.2 762.0,913.3 763.0,909.9 764.0,905.1 765.0,905.8 766.0,911.3 767.0,908.8 768.0,909.1 769.0,909.5 770.0,910.3 771.0,913.4 772.0,905.3 773.0,909.8 774.0,908.1 775.0,912.4 776.0,908.8 777.0,910.9 778.0,909.0 779.0,911.5 780.0,904.3 781.0,909.1 782.0,910.2 783.0,906.9 784.0,922.6 785.0,912.2 786.0,909.0 787.0,912.9 788.0,905.6 789.0,906.2 790.0,907.3 791.0,902.4 792.0,910.6 793.0,910.5 794.0,910.5 795.0,912.4 796.0,909.7 797.0,907.9 798.0,908.0 799.0,915.8 800.0,905.6 801.0,910.6 802.0,914.4 803.0,912.2 804.0,909.2 805.0,911.2 806.0,913.2 807.0,905.1 808.0,909.2 809.0,913.0 810.0,911.9 811.0,913.9 812.0,914.6 813.0,910.6 814.0,908.1 815.0,912.4 816.0,915.6 817.0,913.1 818.0,912.1 819.0,917.1 820.0,909.2 821.0,913.7 822.0,910.3 823.0,911.8 824.0,911.9 825.0,915.2 826.0,909.6 827.0,910.6 828.0,908.2 829.0,913.0 830.0,910.8 831.0,912.9 832.0,900.8 833.0,911.2 834.0,914.4 835.0,911.6 836.0,913.5 837.0,913.3 838.0,911.3 839.0,908.6 840.0,914.5 841.0,912.6 842.0,914.5 843.0,907.7 844.0,908.5 845.0,907.4 846.0,910.4 847.0,914.8 848.0,913.7 849.0,912.4 850.0,912.8 851.0,914.3 852.0,911.9 853.0,913.5 854.0,912.9 855.0,907.6 856.0,911.8 857.0,915.8 858.0,911.8 859.0,912.4 860.0,911.4 861.0,911.7 862.0,915.4 863.0,912.3 864.0,910.6 865.0,905.8 866.0,911.7 867.0,908.5 868.0,908.8 869.0,914.9 870.0,914.7 871.0,908.7 872.0,915.1 873.0,914.2 874.0,911.4 875.0,914.9 876.0,909.5 877.0,910.5 878.0,910.0 879.0,910.8 880.0,915.4 881.0,910.4 882.0,910.8 883.0,911.3 884.0,914.0 885.0,912.8 886.0,915.6 887.0,912.0 888.0,910.7 889.0,912.5 890.0,913.8 891.0,911.6 892.0,914.4 893.0,918.0 894.0,904.8 895.0,913.9 896.0,917.0 897.0,912.4 898.0,912.0 899.0,903.0 900.0,914.9 901.0,915.2 902.0,913.7 903.0,914.1 904.0,917.0 905.0,916.1 906.0,910.9 907.0,914.1 908.0,914.4 909.0,910.4 910.0,913.6 911.0,912.7 912.0,913.1 913.0,910.1 914.0,914.2 915.0,912.9 916.0,915.3 917.0,911.9 918.0,913.3 919.0,912.1 920.0,911.9 921.0,916.0 922.0,913.3 923.0,915.4 924.0,911.8 925.0,914.6 926.0,910.6 927.0,913.4 928.0,913.3 929.0,915.8 930.0,914.9 931.0,914.1 932.0,916.5 933.0,915.0 934.0,915.8 935.0,916.4 936.0,914.5 937.0,914.0 938.0,915.4 939.0,913.7 940.0,915.6 941.0,907.5 942.0,916.7 943.0,913.9 944.0,902.2 945.0,914.7 946.0,914.5 947.0,917.4 948.0,914.0 949.0,914.4 950.0,916.6 951.0,913.8 952.0,914.6 953.0,918.9 954.0,918.4 955.0,916.4 956.0,915.6 957.0,912.8 958.0,916.3 959.0,915.2 960.0,915.6 961.0,913.9 962.0,915.1 963.0,914.7 964.0,915.9 965.0,918.5 966.0,916.0 967.0,911.4 968.0,903.5 969.0,911.6 970.0,913.5 971.0,916.6 972.0,916.3 973.0,914.0 974.0,916.0 975.0,913.7 976.0,912.1 977.0,912.2 978.0,913.5 979.0,918.7 980.0,912.4 981.0,918.4 982.0,918.6 983.0,915.1 984.0,907.4 985.0,914.2 986.0,915.5 987.0,917.1 988.0,915.7 989.0,918.0 990.0,918.4 991.0,916.5 992.0,916.5 993.0,915.6 994.0,911.4 995.0,913.2 996.0,916.7 997.0,916.3 998.0,913.9 999.0,920.8 1000.0,913.7 1001.0,913.9 1002.0,916.5 1003.0,911.5 1004.0,914.1 1005.0,912.4 1006.0,913.7 1007.0,915.6 1008.0,916.7 1009.0,918.5 1010.0,917.8 1011.0,918.7 1012.0,917.3 1013.0,914.9 1014.0,910.1 1015.0,914.9 1016.0,914.6 1017.0,919.6 1018.0,917.9 1019.0,916.6 1020.0,917.8 1021.0,918.1 1022.0,913.0 1023.0,915.9 1024.0,913.4 1025.0,916.4 1026.0,914.6 1027.0,919.3 1028.0,917.3 1029.0,914.3 1030.0,916.1 1031.0,913.4 1032.0,916.3 1033.0,917.5 1034.0,916.8 1035.0,911.8 1036.0,915.5 1037.0,917.4 1038.0,926.6 1039.0,918.9 1040.0,913.3 1041.0,917.5 1042.0,914.8 1043.0,916.7 1044.0,917.2 1045.0,917.9 1046.0,915.0 1047.0,916.8 1048.0,913.7 1049.0,913.1 1050.0,917.6 1051.0,916.3 1052.0,912.7 1053.0,914.4 1054.0,916.5 1055.0,920.0 1056.0,918.8 1057.0,918.3 1058.0,912.3 1059.0,916.2 1060.0,917.6 1061.0,917.4 1062.0,917.4 1063.0,916.0 1064.0,920.5 1065.0,919.9 1066.0,916.3 1067.0,914.3 1068.0,921.3 1069.0,915.3 1070.0,919.3 1071.0,921.0 1072.0,914.4 1073.0,917.3 1074.0,915.8 1075.0,917.8 1076.0,911.5 1077.0,921.1 1078.0,918.0 1079.0,916.6 1080.0,912.4 1081.0,916.1 1082.0,915.8 1083.0,921.8 1084.0,914.8 1085.0,915.6 1086.0,916.8 1087.0,914.3 1088.0,911.9 1089.0,919.2 1090.0,915.0 1091.0,915.5 1092.0,915.9 1093.0,914.5 1094.0,914.3 1095.0,917.2 1096.0,922.3 1097.0,918.5 1098.0,918.6 1099.0,913.4 1100.0,916.8 1101.0,914.1 1102.0,918.6 1103.0,916.3 1104.0,916.9 1105.0,916.6 1106.0,915.5 1107.0,913.3 1108.0,918.1 1109.0,913.6 1110.0,914.0 1111.0,916.1 1112.0,915.1 1113.0,917.3 1114.0,919.0 1115.0,917.3 1116.0,917.2 1117.0,916.7 1118.0,918.7 1119.0,912.4 1120.0,917.5 1121.0,914.5 1122.0,913.8 1123.0,916.6 1124.0,915.7 1125.0,918.0 1126.0,919.1 1127.0,911.2 1128.0,916.4 1129.0,921.1 1130.0,918.6 1131.0,919.9 1132.0,916.8 1133.0,913.2 1134.0,913.9 1135.0,918.2 1136.0,918.7 1137.0,914.8 1138.0,915.9 1139.0,917.1 1140.0,912.4 1141.0,904.9 1142.0,920.2 1143.0,921.5 1144.0,916.2 1145.0,913.6 1146.0,915.2 1147.0,914.5 1148.0,911.2 1149.0,918.6 1150.0,915.5 1151.0,921.7 1152.0,917.1 1153.0,916.8 1154.0,912.2 1155.0,919.8 1156.0,915.5 1157.0,915.9 1158.0,911.2 1159.0,918.4 1160.0,918.5 1161.0,914.9 1162.0,908.6 1163.0,917.1 1164.0,918.4 1165.0,916.5 1166.0,920.2 1167.0,923.3 1168.0,914.8 1169.0,915.1 1170.0,910.3 1171.0,914.3 1172.0,918.5 1173.0,916.8 1174.0,914.2 1175.0,916.9 1176.0,911.5 1177.0,915.4 1178.0,917.3 1179.0,909.0 1180.0,914.3 1181.0,918.2 1182.0,920.4 1183.0,915.1 1184.0,917.7 1185.0,912.4 1186.0,911.5 1187.0,917.4 1188.0,916.1 1189.0,916.4 1190.0,914.6 1191.0,915.3 1192.0,917.8 1193.0,919.9 1194.0,915.4 1195.0,912.1 1196.0,918.9 1197.0,917.3 1198.0,917.5 1199.0,916.3 1200.0,921.2 1201.0,916.0 1202.0,917.0 1203.0,911.5 1204.0,914.4 1205.0,914.1 1206.0,915.6 1207.0,916.5 1208.0,913.9 1209.0,919.6 1210.0,913.1 1211.0,914.5 1212.0,916.0 1213.0,912.6 1214.0,916.8 1215.0,916.9 1216.0,914.7 1217.0,919.7 1218.0,915.5 1219.0,915.9 1220.0,913.0 1221.0,911.4 1222.0,913.7 1223.0,914.4 1224.0,914.1 1225.0,916.9 1226.0,909.6 1227.0,912.4 1228.0,910.8 1229.0,918.0 1230.0,913.6 1231.0,913.7 1232.0,903.3 1233.0,916.9 1234.0,913.9 1235.0,915.3 1236.0,910.1 1237.0,909.0 1238.0,915.6 1239.0,915.9 1240.0,917.5 1241.0,914.1 1242.0,914.2 1243.0,916.2 1244.0,915.5 1245.0,913.9 1246.0,914.5 1247.0,913.2 1248.0,916.0 1249.0,916.5 1250.0,914.3 1251.0,918.6 1252.0,904.1 1253.0,913.7 1254.0,918.1 1255.0,913.2 1256.0,910.4 1257.0,917.3 1258.0,915.3 1259.0,911.3 1260.0,915.8 1261.0,911.6 1262.0,910.8 1263.0,913.5 1264.0,912.4 1265.0,910.7 1266.0,912.0 1267.0,910.2 1268.0,912.3 1269.0,911.7 1270.0,913.1 1271.0,910.0 1272.0,907.7 1273.0,907.3 1274.0,909.5 1275.0,913.2 1276.0,911.3 1277.0,907.5 1278.0,910.8 1279.0,905.6 1280.0,910.3 1281.0,906.7 1282.0,909.0 1283.0,908.3 1284.0,905.9 1285.0,906.9 1286.0,903.4 1287.0,905.3 1288.0,907.6 1289.0,914.2 1290.0,906.0 1291.0,904.3 1292.0,901.4 1293.0,905.8 1294.0,899.2 1295.0,900.8 1296.0,903.1 1297.0,899.2 1298.0,905.1 1299.0,903.8 1300.0,899.6 1301.0,899.2 1302.0,897.1 1303.0,896.5 1304.0,900.4 1305.0,900.5 1306.0,899.5 1307.0,898.9 1308.0,896.6 1309.0,898.4 1310.0,893.7 1311.0,896.8 1312.0,899.8 1313.0,899.1 1314.0,894.6 1315.0,894.5 1316.0,888.9 1317.0,898.6 1318.0,890.7 1319.0,892.8 1320.0,893.9 1321.0,895.8 1322.0,890.7 1323.0,893.8 1324.0,891.2 1325.0,897.0 1326.0,892.1 1327.0,890.5 1328.0,884.9 1329.0,892.5 1330.0,891.2 1331.0,886.8 1332.0,889.4 1333.0,885.4 1334.0,886.4 1335.0,884.8 1336.0,884.3 1337.0,885.4 1338.0,884.4 1339.0,887.5 1340.0,887.7 1341.0,885.0 1342.0,882.6 1343.0,886.8 1344.0,879.9 1345.0,879.8 1346.0,885.6 1347.0,885.1 1348.0,885.5 1349.0,882.4 1350.0,879.7 1351.0,889.8 1352.0,883.2 1353.0,879.8 1354.0,879.6 1355.0,877.7 1356.0,877.9 1357.0,882.2 1358.0,880.9 1359.0,876.9 1360.0,876.7 1361.0,877.6 1362.0,879.8 1363.0,875.5 1364.0,877.5 1365.0,872.6 1366.0,874.3 1367.0,877.9 1368.0,878.6 1369.0,873.6 1370.0,874.1 1371.0,876.8 1372.0,873.2 1373.0,871.9 1374.0,873.5 1375.0,871.8 1376.0,873.0 1377.0,871.4 1378.0,867.3 1379.0,867.4 1380.0,866.7 1381.0,855.7 1382.0,861.7 1383.0,864.1 1384.0,856.2 1385.0,860.2 1386.0,856.6 1389.0,854.0 1392.5,852.0 1395.5,842.0 1396.0,780.0 1398.5,300.0 1400.5,150.0 1401.7,113.5 1401.4,300.0 1401.5,1070.0" fill="none" stroke="#0f0" stroke-width="9" stroke-linejoin="round" stroke-linecap="round"/></g>
<polyline points="244.5,1037.0 250.0,1022.0 257.5,994.0 262.0,985.0 268.0,977.0 271.0,972.0 274.0,1000.0 276.3,1045.0 276.8,1000.0 277.5,850.0 279.0,795.0 281.0,788.5 283.5,795.0 286.5,832.0 289.0,870.0 292.0,890.0 296.0,900.0 297.0,908.6 298.0,903.7 299.0,907.3" fill="none" stroke="#00f" stroke-width="9" stroke-linejoin="round" stroke-linecap="round"/>
<g clip-path="url(#ca)"><polyline points="289.0,870.0 292.0,890.0 296.0,900.0 297.0,908.6 298.0,903.7 299.0,907.3 300.0,900.6 301.0,904.6 302.0,908.5 303.0,903.1 304.0,906.8 305.0,896.1 306.0,906.8 307.0,903.0 308.0,898.0 309.0,905.1 310.0,905.8 311.0,906.2 312.0,906.2 313.0,903.0 314.0,901.1 315.0,909.0 316.0,903.0 317.0,904.2 318.0,901.8 319.0,903.2 320.0,905.4 321.0,904.0 322.0,909.2 323.0,916.6 324.0,900.1 325.0,901.7 326.0,899.7 327.0,900.1 328.0,904.6 329.0,900.6 330.0,900.4 331.0,902.5 332.0,905.4 333.0,902.3 334.0,902.3 335.0,905.7 336.0,904.5 337.0,904.5 338.0,905.8 339.0,900.6 340.0,903.9 341.0,910.1 342.0,906.1 343.0,905.5 344.0,900.6 345.0,906.9 346.0,900.3 347.0,906.5 348.0,897.8 349.0,901.1 350.0,900.5 351.0,902.6 352.0,894.7 353.0,901.6 354.0,905.0 355.0,899.8 356.0,903.5 357.0,903.5 358.0,891.1 359.0,904.3 360.0,900.2 361.0,896.9 362.0,907.5 363.0,902.9 364.0,906.0 365.0,902.3 366.0,907.5 367.0,907.4 368.0,906.5 369.0,907.1 370.0,895.8 371.0,913.1 372.0,905.4 373.0,906.2 374.0,904.3 375.0,903.0 376.0,899.5 377.0,917.0 378.0,904.6 379.0,892.3 380.0,904.0 381.0,905.7 382.0,903.4 383.0,905.8 384.0,905.8 385.0,899.8 386.0,903.0 387.0,905.1 388.0,906.2 389.0,907.6 390.0,898.7 391.0,903.7 392.0,905.7 393.0,907.1 394.0,908.4 395.0,889.7 396.0,902.9 397.0,901.1 398.0,899.0 399.0,900.4 400.0,907.1 401.0,906.4 402.0,896.6 403.0,898.2 404.0,902.2 405.0,906.0 406.0,900.3 407.0,903.4 408.0,903.8 409.0,906.5 410.0,904.9 411.0,904.9 412.0,903.0 413.0,904.2 414.0,903.8 415.0,906.2 416.0,903.8 417.0,907.0 418.0,899.7 419.0,907.5 420.0,911.4 421.0,907.3 422.0,904.6 423.0,896.6 424.0,908.4 425.0,902.9 426.0,914.2 427.0,904.0 428.0,905.0 429.0,900.2 430.0,904.1 431.0,916.7 432.0,902.5 433.0,904.1 434.0,900.5 435.0,898.2 436.0,905.8 437.0,909.7 438.0,902.3 439.0,901.6 440.0,905.5 441.0,900.3 442.0,898.6 443.0,915.9 444.0,903.9 445.0,905.5 446.0,905.0 447.0,909.8 448.0,906.6 449.0,901.4 450.0,907.5 451.0,901.4 452.0,905.2 453.0,901.6 454.0,902.8 455.0,900.1 456.0,903.5 457.0,903.3 458.0,903.6 459.0,904.2 460.0,908.9 461.0,902.0 462.0,901.8 463.0,906.7 464.0,900.9 465.0,904.2 466.0,908.2 467.0,905.2 468.0,904.0 469.0,903.4 470.0,894.8 471.0,903.7 472.0,905.7 473.0,908.7 474.0,907.9 475.0,903.9 476.0,903.5 477.0,907.3 478.0,909.8 479.0,904.3 480.0,904.6 481.0,902.5 482.0,894.7 483.0,906.5 484.0,901.1 485.0,903.1 486.0,903.9 487.0,905.8 488.0,902.0 489.0,908.5 490.0,904.8 491.0,900.4 492.0,904.7 493.0,903.9 494.0,903.1 495.0,908.8 496.0,920.1 497.0,905.5 498.0,908.4 499.0,903.9 500.0,918.4 501.0,905.9 502.0,903.5 503.0,907.9 504.0,902.0 505.0,921.0 506.0,903.6 507.0,907.1 508.0,909.7 509.0,907.6 510.0,904.5 511.0,906.1 512.0,905.2 513.0,903.1 514.0,903.3 515.0,906.4 516.0,907.7 517.0,901.6 518.0,898.3 519.0,907.7 520.0,906.7 521.0,903.8 522.0,909.2 523.0,903.2 524.0,908.2 525.0,910.8 526.0,901.1 527.0,907.3 528.0,907.4 529.0,907.2 530.0,904.6 531.0,905.9 532.0,894.7 533.0,907.1 534.0,908.2 535.0,905.0 536.0,904.4 537.0,905.6 538.0,898.8 539.0,916.2 540.0,906.7 541.0,907.2 542.0,903.5 543.0,899.8 544.0,895.9 545.0,910.9 546.0,903.4 547.0,905.4 548.0,908.0 549.0,909.7 550.0,909.0 551.0,920.6 552.0,907.2 553.0,908.4 554.0,908.5 555.0,919.4 556.0,910.6 557.0,909.1 558.0,910.1 559.0,906.5 560.0,910.3 561.0,904.8 562.0,908.6 563.0,900.7 564.0,905.0 565.0,909.6 566.0,906.5 567.0,908.2 568.0,903.5 569.0,918.6 570.0,909.4 571.0,907.8 572.0,920.8 573.0,908.8 574.0,911.7 575.0,908.5 576.0,904.1 577.0,915.9 578.0,911.5 579.0,909.6 580.0,907.0 581.0,909.8 582.0,901.8 583.0,901.1 584.0,904.1 585.0,905.9 586.0,910.1 587.0,907.8 588.0,909.3 589.0,913.6 590.0,901.2 591.0,909.1 592.0,907.0 593.0,906.9 594.0,908.4 595.0,904.7 596.0,903.1 597.0,912.2 598.0,908.4 599.0,911.7 600.0,909.1 601.0,909.1 602.0,910.6 603.0,919.5 604.0,905.7 605.0,912.0 606.0,916.5 607.0,909.4 608.0,915.7 609.0,909.2 610.0,923.1 611.0,908.1 612.0,910.7 613.0,909.2 614.0,910.2 615.0,906.9 616.0,906.7 617.0,910.0 618.0,905.1 619.0,907.0 620.0,910.9 621.0,907.6 622.0,906.9 623.0,906.4 624.0,909.7 625.0,895.4 626.0,909.8 627.0,908.9 628.0,914.3 629.0,908.3 630.0,904.3 631.0,909.8 632.0,909.5 633.0,910.0 634.0,905.4 635.0,920.9 636.0,909.6 637.0,909.5 638.0,897.0 639.0,911.0 640.0,909.6 641.0,913.3 642.0,908.7 643.0,906.6 644.0,910.2 645.0,907.5 646.0,911.0 647.0,912.3 648.0,909.6 649.0,909.4 650.0,909.9 651.0,908.7 652.0,907.9 653.0,909.9 654.0,908.6 655.0,897.9 656.0,909.4 657.0,904.3 658.0,910.0 659.0,923.8 660.0,911.0 661.0,911.8 662.0,911.5 663.0,909.1 664.0,906.8 665.0,912.5 666.0,913.1 667.0,911.9 668.0,911.5 669.0,911.5 670.0,910.4 671.0,911.2 672.0,910.6 673.0,911.4 674.0,897.0 675.0,909.0 676.0,912.1 677.0,909.8 678.0,904.4 679.0,911.0 680.0,914.9 681.0,915.7 682.0,912.7 683.0,912.6 684.0,901.7 685.0,917.2 686.0,910.3 687.0,911.0 688.0,908.9 689.0,911.4 690.0,912.8 691.0,912.6 692.0,908.3 693.0,905.5 694.0,911.1 695.0,909.4 696.0,912.3 697.0,915.4 698.0,915.5 699.0,912.0 700.0,914.1 701.0,915.5 702.0,911.4 703.0,912.0 704.0,913.6 705.0,911.3 706.0,910.1 707.0,923.0 708.0,901.2 709.0,909.9 710.0,913.6 711.0,923.1 712.0,915.4 713.0,914.7 714.0,908.4 715.0,914.4 716.0,923.1 717.0,915.2 718.0,913.1 719.0,911.6 720.0,913.5 721.0,910.4 722.0,920.3 723.0,912.9 724.0,911.5 725.0,912.9 726.0,909.4 727.0,913.4 728.0,908.9 729.0,913.6 730.0,913.3 731.0,913.9 732.0,910.7 733.0,919.9 734.0,911.6 735.0,912.6 736.0,898.6 737.0,915.9 738.0,911.1 739.0,914.9 740.0,902.9 741.0,913.2 742.0,911.4 743.0,914.8 744.0,911.7 745.0,910.2 746.0,913.7 747.0,909.5 748.0,910.1 749.0,914.5 750.0,907.8 751.0,914.6 752.0,911.6 753.0,910.3 754.0,913.3 755.0,914.4 756.0,911.3 757.0,912.3 758.0,914.9 759.0,914.8 760.0,900.1 761.0,910.9 762.0,910.5 763.0,911.4 764.0,914.7 765.0,914.5 766.0,913.8 767.0,916.6 768.0,912.3 769.0,919.7 770.0,912.2 771.0,918.1 772.0,907.9 773.0,914.0 774.0,914.4 775.0,913.4 776.0,919.3 777.0,916.3 778.0,915.3 779.0,911.1 780.0,914.7 781.0,912.5 782.0,913.6 783.0,914.0 784.0,912.3 785.0,915.2 786.0,917.7 787.0,927.8 788.0,914.2 789.0,908.7 790.0,916.5 791.0,916.5 792.0,921.7 793.0,912.6 794.0,915.5 795.0,911.8 796.0,906.3 797.0,911.1 798.0,911.6 799.0,914.0 800.0,910.3 801.0,914.0 802.0,903.7 803.0,910.7 804.0,916.4 805.0,912.6 806.0,915.4 807.0,926.8 808.0,912.9 809.0,912.8 810.0,909.8 811.0,912.4 812.0,921.5 813.0,918.3 814.0,916.8 815.0,910.7 816.0,916.2 817.0,914.8 818.0,913.3 819.0,915.4 820.0,916.3 821.0,912.9 822.0,913.6 823.0,914.7 824.0,911.8 825.0,914.8 826.0,914.2 827.0,905.8 828.0,912.3 829.0,915.2 830.0,916.7 831.0,908.3 832.0,912.3 833.0,916.4 834.0,914.9 835.0,903.4 836.0,917.5 837.0,912.3 838.0,914.2 839.0,913.1 840.0,912.4 841.0,919.7 842.0,917.0 843.0,910.2 844.0,915.7 845.0,913.3 846.0,917.6 847.0,914.9 848.0,914.3 849.0,915.1 850.0,915.7 851.0,927.7 852.0,914.2 853.0,914.4 854.0,907.5 855.0,912.0 856.0,925.3 857.0,914.5 858.0,908.5 859.0,916.7 860.0,911.6 861.0,914.0 862.0,912.8 863.0,916.3 864.0,913.8 865.0,915.1 866.0,916.0 867.0,911.0 868.0,916.2 869.0,913.1 870.0,914.4 871.0,914.8 872.0,917.1 873.0,917.0 874.0,919.6 875.0,915.6 876.0,913.9 877.0,913.9 878.0,916.8 879.0,919.2 880.0,916.1 881.0,913.8 882.0,915.9 883.0,903.3 884.0,915.3 885.0,913.4 886.0,908.9 887.0,914.0 888.0,918.0 889.0,915.9 890.0,909.8 891.0,915.4 892.0,910.7 893.0,920.4 894.0,915.9 895.0,912.4 896.0,917.5 897.0,913.5 898.0,916.9 899.0,915.5 900.0,921.1 901.0,917.2 902.0,912.2 903.0,919.0 904.0,915.8 905.0,925.4 906.0,911.1 907.0,919.8 908.0,919.4 909.0,912.6 910.0,919.9 911.0,916.2 912.0,915.2 913.0,915.6 914.0,915.2 915.0,919.5 916.0,916.3 917.0,911.3 918.0,921.2 919.0,918.2 920.0,913.3 921.0,915.1 922.0,913.8 923.0,916.2 924.0,917.1 925.0,912.5 926.0,914.6 927.0,914.2 928.0,909.9 929.0,916.0 930.0,921.9 931.0,914.2 932.0,928.0 933.0,907.3 934.0,914.4 935.0,927.9 936.0,908.2 937.0,914.2 938.0,915.6 939.0,919.0 940.0,922.3 941.0,920.0 942.0,918.3 943.0,915.9 944.0,920.0 945.0,921.0 946.0,918.2 947.0,917.1 948.0,921.4 949.0,920.5 950.0,914.4 951.0,916.3 952.0,916.3 953.0,915.8 954.0,913.1 955.0,919.2 956.0,917.1 957.0,917.2 958.0,914.3 959.0,915.5 960.0,916.9 961.0,927.2 962.0,916.0 963.0,916.8 964.0,919.0 965.0,917.1 966.0,930.6 967.0,924.5 968.0,917.7 969.0,913.6 970.0,925.4 971.0,915.5 972.0,920.8 973.0,919.2 974.0,918.6 975.0,922.1 976.0,913.4 977.0,919.2 978.0,915.7 979.0,913.8 980.0,930.5 981.0,916.6 982.0,922.8 983.0,916.8 984.0,913.4 985.0,921.4 986.0,927.3 987.0,916.0 988.0,919.1 989.0,926.8 990.0,915.5 991.0,920.2 992.0,917.0 993.0,915.1 994.0,916.6 995.0,913.2 996.0,921.4 997.0,918.1 998.0,916.1 999.0,915.7 1000.0,919.5 1001.0,921.9 1002.0,914.8 1003.0,916.6 1004.0,913.6 1005.0,919.9 1006.0,918.6 1007.0,924.0 1008.0,917.9 1009.0,917.2 1010.0,916.5 1011.0,920.5 1012.0,914.2 1013.0,920.3 1014.0,919.1 1015.0,917.2 1016.0,907.7 1017.0,928.6 1018.0,923.3 1019.0,917.4 1020.0,911.7 1021.0,923.1 1022.0,917.1 1023.0,918.0 1024.0,915.6 1025.0,906.3 1026.0,918.6 1027.0,917.7 1028.0,916.9 1029.0,914.8 1030.0,915.5 1031.0,916.4 1032.0,920.6 1033.0,917.7 1034.0,916.8 1035.0,929.2 1036.0,920.5 1037.0,917.2 1038.0,917.5 1039.0,930.6 1040.0,920.1 1041.0,917.1 1042.0,919.9 1043.0,919.2 1044.0,922.2 1045.0,917.1 1046.0,921.6 1047.0,920.5 1048.0,916.8 1049.0,922.2 1050.0,935.5 1051.0,916.1 1052.0,924.7 1053.0,916.6 1054.0,917.3 1055.0,918.8 1056.0,921.7 1057.0,921.2 1058.0,919.5 1059.0,923.3 1060.0,920.8 1061.0,923.4 1062.0,918.2 1063.0,920.4 1064.0,913.3 1065.0,918.8 1066.0,909.4 1067.0,920.2 1068.0,920.3 1069.0,929.2 1070.0,917.1 1071.0,919.4 1072.0,928.1 1073.0,913.4 1074.0,922.7 1075.0,920.3 1076.0,920.3 1077.0,928.5 1078.0,917.7 1079.0,915.6 1080.0,914.0 1081.0,923.2 1082.0,921.7 1083.0,919.8 1084.0,918.4 1085.0,924.0 1086.0,921.9 1087.0,919.5 1088.0,923.0 1089.0,918.4 1090.0,915.7 1091.0,924.0 1092.0,921.3 1093.0,931.3 1094.0,920.1 1095.0,927.7 1096.0,924.1 1097.0,917.4 1098.0,929.7 1099.0,917.7 1100.0,916.5 1101.0,921.5 1102.0,927.4 1103.0,925.1 1104.0,921.2 1105.0,920.1 1106.0,921.6 1107.0,930.6 1108.0,917.2 1109.0,916.1 1110.0,926.1 1111.0,921.9 1112.0,925.4 1113.0,921.8 1114.0,925.1 1115.0,919.5 1116.0,922.5 1117.0,925.3 1118.0,923.9 1119.0,920.0 1120.0,923.6 1121.0,919.4 1122.0,917.4 1123.0,914.1 1124.0,925.0 1125.0,923.5 1126.0,917.9 1127.0,923.6 1128.0,923.1 1129.0,920.1 1130.0,914.7 1131.0,924.0 1132.0,923.7 1133.0,922.7 1134.0,916.7 1135.0,917.4 1136.0,924.1 1137.0,923.5 1138.0,922.7 1139.0,920.7 1140.0,922.5 1141.0,930.9 1142.0,920.6 1143.0,919.1 1144.0,915.6 1145.0,920.3 1146.0,924.0 1147.0,923.4 1148.0,919.3 1149.0,918.0 1150.0,918.5 1151.0,922.7 1152.0,924.4 1153.0,925.0 1154.0,915.6 1155.0,924.2 1156.0,924.8 1157.0,925.4 1158.0,915.6 1159.0,919.8 1160.0,921.3 1161.0,920.4 1162.0,925.2 1163.0,919.8 1164.0,924.9 1165.0,923.2 1166.0,926.2 1167.0,919.0 1168.0,920.4 1169.0,922.0 1170.0,924.4 1171.0,921.2 1172.0,932.9 1173.0,909.8 1174.0,913.5 1175.0,920.8 1176.0,923.0 1177.0,920.8 1178.0,919.1 1179.0,913.6 1180.0,927.0 1181.0,921.5 1182.0,919.9 1183.0,919.5 1184.0,927.1 1185.0,921.7 1186.0,923.5 1187.0,925.2 1188.0,914.8 1189.0,919.4 1190.0,924.5 1191.0,924.2 1192.0,936.0 1193.0,924.7 1194.0,920.4 1195.0,909.9 1196.0,934.4 1197.0,924.0 1198.0,920.2 1199.0,923.1 1200.0,919.0 1201.0,932.7 1202.0,921.0 1203.0,921.6 1204.0,910.6 1205.0,921.4 1206.0,921.3 1207.0,904.4 1208.0,924.9 1209.0,920.2 1210.0,921.2 1211.0,919.6 1212.0,924.5 1213.0,919.4 1214.0,923.1 1215.0,924.9 1216.0,926.2 1217.0,924.9 1218.0,923.4 1219.0,906.2 1220.0,925.2 1221.0,924.9 1222.0,923.9 1223.0,913.2 1224.0,921.8 1225.0,920.2 1226.0,924.5 1227.0,934.6 1228.0,918.8 1229.0,924.0 1230.0,922.2 1231.0,923.9 1232.0,922.3 1233.0,924.5 1234.0,924.2 1235.0,923.9 1236.0,924.4 1237.0,923.7 1238.0,914.1 1239.0,918.4 1240.0,937.2 1241.0,917.7 1242.0,923.8 1243.0,925.9 1244.0,920.0 1245.0,932.5 1246.0,922.5 1247.0,923.0 1248.0,931.1 1249.0,922.9 1250.0,921.6 1251.0,923.2 1252.0,921.3 1253.0,924.2 1254.0,921.9 1255.0,923.0 1256.0,924.8 1257.0,921.6 1258.0,923.8 1259.0,921.7 1260.0,913.9 1261.0,919.7 1262.0,923.2 1263.0,924.4 1264.0,920.6 1265.0,922.6 1266.0,921.3 1267.0,916.9 1268.0,920.5 1269.0,922.8 1270.0,917.7 1271.0,914.0 1272.0,919.0 1273.0,916.4 1274.0,922.9 1275.0,917.4 1276.0,917.2 1277.0,915.3 1278.0,917.3 1279.0,908.6 1280.0,913.6 1281.0,915.6 1282.0,926.9 1283.0,918.6 1284.0,911.8 1285.0,914.4 1286.0,912.4 1287.0,910.3 1288.0,918.1 1289.0,907.8 1290.0,916.9 1291.0,909.0 1292.0,912.7 1293.0,918.2 1294.0,906.2 1295.0,907.9 1296.0,914.8 1297.0,911.4 1298.0,909.2 1299.0,899.5 1300.0,907.5 1301.0,910.2 1302.0,913.7 1303.0,917.7 1304.0,909.7 1305.0,912.3 1306.0,914.2 1307.0,907.1 1308.0,909.3 1309.0,918.7 1310.0,906.4 1311.0,906.8 1312.0,906.0 1313.0,902.9 1314.0,902.0 1315.0,893.8 1316.0,907.2 1317.0,909.9 1318.0,905.1 1319.0,905.9 1320.0,907.8 1321.0,907.9 1322.0,905.4 1323.0,912.6 1324.0,910.2 1325.0,904.2 1326.0,903.6 1327.0,900.4 1328.0,905.6 1329.0,903.6 1330.0,909.1 1331.0,903.0 1332.0,905.8 1333.0,913.1 1334.0,907.7 1335.0,899.6 1336.0,907.0 1337.0,902.7 1338.0,902.2 1339.0,892.3 1340.0,901.1 1341.0,901.0 1342.0,885.9 1343.0,902.8 1344.0,901.5 1345.0,889.7 1346.0,900.7 1347.0,906.8 1348.0,901.5 1349.0,899.3 1350.0,904.6 1351.0,897.8 1352.0,899.3 1353.0,898.0 1354.0,898.7 1355.0,911.6 1356.0,893.8 1357.0,896.8 1358.0,898.2 1359.0,898.5 1360.0,897.0 1361.0,897.8 1362.0,895.8 1363.0,895.6 1364.0,905.6 1365.0,894.4 1366.0,889.1 1367.0,896.2 1368.0,894.1 1369.0,888.1 1370.0,887.6 1371.0,895.5 1372.0,896.0 1373.0,894.9 1374.0,893.0 1375.0,898.8 1376.0,897.3 1377.0,895.0 1378.0,897.0 1379.0,895.1 1380.0,893.4 1381.0,894.1 1382.0,900.7 1383.0,896.1 1384.0,896.0 1385.0,892.0 1386.0,894.5 1387.0,898.6 1388.0,893.6 1389.0,895.1 1390.0,895.4 1391.0,893.3 1392.0,895.3 1393.0,891.3 1394.0,891.5 1395.0,888.1 1396.0,896.2 1397.0,889.6 1398.0,888.7 1399.0,891.6 1400.0,886.2 1401.0,887.0 1402.0,884.5 1403.0,886.1 1404.0,884.1 1405.0,885.5 1406.0,882.7 1407.0,880.5 1408.0,880.3 1411.0,876.0 1413.5,860.0 1414.5,780.0 1418.5,300.0 1420.0,123.3 1421.3,300.0 1421.4,1070.0" fill="none" stroke="#00f" stroke-width="9" stroke-linejoin="round" stroke-linecap="round"/></g>
<path d="M1171.6,801.8 V777.5 H1180 M1211.2,777.5 H1243.8 M1274.5,777.5 H1307.0 M1338.0,777.5 H1371.0 M1402.0,777.5 H1435.0 M1438.7,804.3 V836.4 M1438.7,868.2 V900.0 M1438.7,931.2 V963.6 M1438.7,995.0 V1026.4 M1171.6,1023 V1054.2 H1181 M1211.2,1054.2 H1243.8 M1275.0,1054.2 H1307.6 M1338.0,1054.2 H1372.0 M1403.4,1054.2 H1435.0 M1171.6,832.3 V864.7 M1171.6,896.6 V928.5 M1171.6,960.0 V992.0" fill="none" stroke="#000" stroke-width="8.7" stroke-linejoin="round"/>
<g font-family='"Liberation Sans", Arial, sans-serif' font-size="47.5" fill="#262626">
<text x="290.8" y="1121.5" text-anchor="middle">-600</text>
<text x="452.5" y="1121.5" text-anchor="middle">-500</text>
<text x="614.3" y="1121.5" text-anchor="middle">-400</text>
<text x="776.0" y="1121.5" text-anchor="middle">-300</text>
<text x="937.8" y="1121.5" text-anchor="middle">-200</text>
<text x="1099.5" y="1121.5" text-anchor="middle">-100</text>
<text x="1261.9" y="1121.5" text-anchor="middle">0</text>
<text x="1423.6" y="1121.5" text-anchor="middle">100</text>
<text x="192.3" y="977.8" text-anchor="end">0.02</text>
<text x="192.3" y="877.3" text-anchor="end">0.04</text>
<text x="192.3" y="776.8" text-anchor="end">0.06</text>
<text x="192.3" y="676.3" text-anchor="end">0.08</text>
<text x="192.3" y="575.8" text-anchor="end">0.1</text>
<text x="192.3" y="475.3" text-anchor="end">0.12</text>
<text x="192.3" y="374.8" text-anchor="end">0.14</text>
<text x="192.3" y="274.3" text-anchor="end">0.16</text>
<text x="192.3" y="173.8" text-anchor="end">0.18</text>
<text x="192.3" y="73.3" text-anchor="end">0.2</text>
</g>
<text x="530.9" y="1194.8" font-family='"Liberation Sans", Arial, sans-serif' font-size="55.8" fill="#262626">Time after oil supply off (s)</text>
<text transform="translate(74.9,795.6) rotate(-90)" font-family='"Liberation Sans", Arial, sans-serif' font-size="55.5" fill="#262626">Coeffient of Friction</text>
<text x="233.3" y="121.2" font-family='"Liberation Sans", Arial, sans-serif' font-size="58" font-weight="bold" fill="#000">A</text>
<rect x="412.5" y="139.5" width="629" height="230" fill="#fff" stroke="#262626" stroke-width="3"/>
<path d="M435,171.4 H555" stroke="#000" stroke-width="9"/>
<text transform="translate(564.1,188.5) scale(1,1.09)" font-family='"Liberation Sans", Arial, sans-serif' font-size="42.9" fill="#000">85734</text>
<path d="M435,226.2 H555" stroke="#f00" stroke-width="9"/>
<text transform="translate(564.1,243.3) scale(1,1.09)" font-family='"Liberation Sans", Arial, sans-serif' font-size="42.9" fill="#000">85734+0.02%NG</text>
<path d="M435,280.9 H555" stroke="#0f0" stroke-width="9"/>
<text transform="translate(564.1,298.0) scale(1,1.09)" font-family='"Liberation Sans", Arial, sans-serif' font-size="42.9" fill="#000">85734+1%IL</text>
<path d="M435,335.7 H555" stroke="#00f" stroke-width="9"/>
<text transform="translate(564.1,352.8) scale(1,1.09)" font-family='"Liberation Sans", Arial, sans-serif' font-size="42.9" fill="#000">85734+0.02%NG+1%IL</text>
<path d="M244,1488.5 H1469.5 V2436.5 H244 Z M244.0,2436.5 v-13.4 M244.0,1488.5 v13.4 M652.5,2436.5 v-13.4 M652.5,1488.5 v13.4 M1061.0,2436.5 v-13.4 M1061.0,1488.5 v13.4 M1469.5,2436.5 v-13.4 M1469.5,1488.5 v13.4 M244,2289.8 h13.4 M1469.5,2289.8 h-13.4 M244,2129.1 h13.4 M1469.5,2129.1 h-13.4 M244,1968.3 h13.4 M1469.5,1968.3 h-13.4 M244,1807.5 h13.4 M1469.5,1807.5 h-13.4 M244,1646.8 h13.4 M1469.5,1646.8 h-13.4" fill="none" stroke="#262626" stroke-width="2.6"/>
<g clip-path="url(#cb)">
<polyline points="244.0,2122.5 245.2,2129.3 246.4,2125.4 247.6,2123.2 248.8,2125.9 250.0,2123.3 251.2,2118.3 252.4,2128.2 253.6,2134.7 254.8,2124.0 256.0,2136.8 257.2,2125.2 258.4,2123.1 259.6,2123.4 260.8,2118.3 262.0,2126.9 263.2,2124.9 264.4,2122.1 265.6,2125.1 266.8,2122.3 268.0,2127.7 269.2,2134.2 270.4,2127.3 271.6,2133.1 272.8,2134.0 274.0,2135.9 275.2,2135.6 276.4,2127.6 277.6,2124.8 278.8,2127.0 280.0,2124.8 281.2,2126.5 282.4,2132.8 283.6,2135.9 284.8,2129.1 286.0,2125.7 287.2,2136.1 288.4,2119.6 289.6,2075.0 290.8,2123.2 292.0,2135.2 293.2,2129.7 294.4,2128.0 295.6,2127.1 296.8,2116.0 298.0,2123.5 299.2,2123.2 300.4,2117.4 301.6,2125.9 302.8,2129.7 304.0,2122.0 305.2,2129.0 306.4,2129.0 307.6,2123.7 308.8,2123.1 310.0,2126.5 311.2,2119.1 312.4,2123.8 313.6,2126.2 314.8,2117.5 316.0,2124.3 317.2,2055.0 318.4,2113.6 319.6,2120.9 320.8,2118.6 322.0,2123.7 323.2,2119.3 324.4,2129.3 325.6,2125.7 326.8,2131.9 328.0,2130.2 329.2,2132.3 330.4,2138.7 331.6,2134.5 332.8,2130.4 334.0,2125.4 335.2,2131.6 336.4,2131.7 337.6,2129.9 338.8,2133.1 340.0,2127.4 341.2,2126.0 342.4,2125.2 343.6,2127.8 344.8,2125.5 346.0,2119.8 347.2,2122.7 348.4,2123.8 349.6,2126.1 350.8,2132.0 352.0,2127.9 353.2,2128.8 354.4,2131.2 355.6,2129.0 356.8,2130.5 358.0,2122.3 359.2,2131.2 360.4,2124.8 361.6,2128.0 362.8,2124.6 364.0,2131.6 365.2,2134.1 366.4,2133.7 367.6,2133.1 368.8,2043.5 370.0,2123.3 371.2,2122.2 372.4,2119.6 373.6,2125.7 374.8,2122.3 376.0,2122.9 377.2,2126.0 378.4,2122.5 379.6,2123.8 380.8,2123.9 382.0,2128.6 383.2,2128.0 384.4,2128.7 385.6,2130.3 386.8,2121.8 388.0,2124.6 389.2,2129.8 390.4,2127.5 391.6,2131.5 392.8,2137.9 394.0,2139.3 395.2,2137.1 396.4,2130.9 397.6,2127.4 398.8,2130.1 400.0,2126.6 401.2,2130.4 402.4,2135.2 403.6,2130.1 404.8,2129.6 406.0,2131.9 407.2,2134.2 408.4,2133.6 409.6,2132.2 410.8,2133.3 412.0,2125.8 413.2,2128.8 414.4,2153.0 415.6,2129.4 416.8,2125.6 418.0,2123.7 419.2,2123.8 420.4,2128.1 421.6,2127.0 422.8,2133.0 424.0,2139.6 425.2,2135.0 426.4,2141.4 427.6,2137.0 428.8,2131.0 430.0,2132.8 431.2,2129.2 432.4,2133.6 433.6,2124.4 434.8,2130.2 436.0,2128.4 437.2,2121.0 438.4,2132.1 439.6,2136.1 440.8,2129.5 442.0,2136.8 443.2,2126.6 444.4,2132.3 445.6,2124.6 446.8,2138.2 448.0,2088.0 449.2,2118.5 450.4,2127.9 451.6,2133.4 452.8,2126.2 454.0,2134.3 455.2,2135.1 456.4,2129.8 457.6,2128.6 458.8,2128.1 460.0,2120.7 461.2,2129.2 462.4,2130.8 463.6,2124.9 464.8,2134.4 466.0,2134.7 467.2,2123.5 468.4,2131.1 469.6,2123.9 470.8,2123.1 472.0,2132.3 473.2,2131.5 474.4,2134.4 475.6,2137.6 476.8,2177.5 478.0,2133.8 479.2,2125.2 480.4,2122.9 481.6,2129.6 482.8,2120.1 484.0,2125.6 485.2,2124.3 486.4,2130.1 487.6,2125.3 488.8,2134.1 490.0,2124.0 491.2,2126.0 492.4,2123.6 493.6,2125.6 494.8,2115.0 496.0,2121.5 497.2,2122.7 498.4,2126.8 499.6,2127.7 500.8,2125.5 502.0,2128.9 503.2,2127.8 504.4,2131.1 505.6,2129.6 506.8,2128.2 508.0,2130.6 509.2,2130.8 510.4,2136.3 511.6,2126.8 512.8,2129.4 514.0,2133.2 515.2,2121.0 516.4,2122.6 517.6,2125.3 518.8,2129.3 520.0,2137.0 521.2,2129.1 522.4,2131.1 523.6,2128.2 524.8,2122.5 526.0,2124.9 527.2,2166.0 528.4,2131.3 529.6,2125.1 530.8,2132.2 532.0,2123.3 533.2,2132.5 534.4,2133.8 535.6,2126.4 536.8,2125.6 538.0,2132.6 539.2,2126.2 540.4,2131.0 541.6,2122.1 542.8,2127.1 544.0,2123.2 545.2,2122.1 546.4,2121.2 547.6,2127.7 548.8,2123.3 550.0,2131.7 551.2,2132.4 552.4,2134.4 553.6,2126.1 554.8,2134.7 556.0,2200.5 557.2,2123.8 558.4,2131.7 559.6,2132.0 560.8,2126.0 562.0,2124.5 563.2,2128.4 564.4,2126.0 565.6,2125.7 566.8,2130.5 568.0,2127.5 569.2,2127.6 570.4,2129.3 571.6,2139.0 572.8,2129.3 574.0,2128.1 575.2,2123.4 576.4,2126.0 577.6,2134.9 578.8,2129.2 580.0,2126.5 581.2,2130.2 582.4,2120.8 583.6,2120.9 584.8,2130.8 586.0,2129.3 587.2,2129.7 588.4,2130.4 589.6,2126.7 590.8,2122.4 592.0,2121.5 593.2,2119.8 594.4,2124.2 595.6,2118.7 596.8,2120.6 598.0,2130.8 599.2,2123.4 600.4,2130.9 601.6,2130.1 602.8,2124.9 604.0,2120.7 605.2,2127.8 606.4,2208.0 607.6,2130.3 608.8,2125.6 610.0,2127.7 611.2,2126.7 612.4,2119.7 613.6,2130.2 614.8,2127.9 616.0,2128.3 617.2,2133.3 618.4,2144.9 619.6,2146.0 620.8,2131.0 622.0,2131.2 623.2,2124.2 624.4,2121.5 625.6,2123.9 626.8,2122.8 628.0,2130.0 629.2,2123.1 630.4,2124.3 631.6,2123.1 632.8,2123.6 634.0,2129.4 635.2,2140.0 636.4,2120.9 637.6,2117.6 638.8,2116.9 640.0,2122.0 641.2,2119.9 642.4,2121.0 643.6,2125.8 644.8,2122.0 646.0,2125.7 647.2,2120.7 648.4,2133.3 649.6,2124.4 650.8,2124.4 652.0,2131.5 653.2,2131.0 654.4,2132.5 655.6,2127.4 656.8,2121.2 658.0,2124.1 659.2,2125.9 660.4,2119.8 661.6,2128.6 662.8,2121.6 664.0,2125.3 665.2,2131.9 666.4,2132.5 667.6,2137.2 668.8,2128.2 670.0,2118.3 671.2,2112.2 672.4,2114.1 673.6,2114.2 674.8,2112.8 676.0,2119.6 677.2,2117.2 678.4,2113.7 679.6,2129.1 680.8,2117.6 682.0,2115.9 683.2,2124.9 684.4,2125.3 685.6,2118.1 686.8,2117.7 688.0,2119.7 689.2,2159.0 690.4,2119.5 691.6,2116.4 692.8,2117.3 694.0,2119.7 695.2,2110.8 696.4,2115.2 697.6,2112.7 698.8,2125.7 700.0,2127.7 701.2,2128.7 702.4,2128.4 703.6,2129.3 704.8,2118.1 706.0,2124.4 707.2,2117.2 708.4,2110.7 709.6,2105.7 710.8,2101.8 712.0,2108.6 713.2,2112.6 714.4,2113.9 715.6,2108.5 716.8,2121.0 718.0,2054.0 719.2,2113.7 720.4,2107.9 721.6,2102.9 722.8,2112.0 724.0,2120.5 725.2,2113.4 726.4,2109.8 727.6,2112.9 728.8,2114.7 730.0,2117.5 731.2,2115.6 732.4,2116.1 733.6,2115.0 734.8,2110.6 736.0,2108.4 737.2,2112.6 738.4,2115.3 739.6,2113.5 740.8,2111.9 742.0,2110.9 743.2,2117.4 744.4,2109.2 745.6,2111.6 746.8,2114.5 748.0,2108.5 749.2,2109.7 750.4,2112.9 751.6,2115.9 752.8,2112.2 754.0,2113.4 755.2,2113.5 756.4,2109.1 757.6,2115.3 758.8,2109.1 760.0,2102.9 761.2,2130.5 762.4,2100.7 763.6,2105.0 764.8,2110.2 766.0,2108.8 767.2,2117.0 768.4,2107.0 769.6,2111.4 770.8,2110.8 772.0,2112.4 773.2,2109.9 774.4,2106.8 775.6,2105.7 776.8,2113.2 778.0,2106.7 779.2,2099.2 780.4,2103.0 781.6,2101.0 782.8,2102.1 784.0,2100.0 785.2,2107.8 786.4,2097.9 787.6,2100.6 788.8,2109.7 790.0,2095.4 791.2,2091.4 792.4,2095.7 793.6,2104.4 794.8,2100.1 796.0,2104.4 797.2,2099.4 798.4,2028.5 799.6,2097.3 800.8,2096.3 802.0,2097.6 803.2,2102.9 804.4,2100.9 805.6,2100.7 806.8,2105.3 808.0,2097.6 809.2,2092.4 810.4,2096.7 811.6,2096.0 812.8,2100.6 814.0,2103.1 815.2,2090.8 816.4,2101.0 817.6,2093.5 818.8,2086.7 820.0,2083.2 821.2,2093.7 822.4,2089.3 823.6,2088.4 824.8,2090.9 826.0,2086.1 827.2,2092.8 828.4,2091.9 829.6,2094.9 830.8,2096.4 832.0,2091.7 833.2,2099.9 834.4,2092.0 835.6,2097.8 836.8,2088.6 838.0,2094.5 839.2,2089.0 840.4,2088.4 841.6,2082.5 842.8,2073.8 844.0,2075.2 845.2,2077.4 846.4,2077.5 847.6,2072.2 848.8,1994.0 850.0,2080.2 851.2,2085.5 852.4,2083.5 853.6,2081.9 854.8,2086.6 856.0,2087.3 857.2,2087.9 858.4,2083.5 859.6,2085.9 860.8,2083.5 862.0,2078.0 863.2,2084.5 864.4,2082.0 865.6,2080.6 866.8,2087.5 868.0,2083.3 869.2,2081.6 870.4,2080.7 871.6,2077.1 872.8,2073.7 874.0,2080.0 875.2,2086.2 876.4,2079.1 877.6,2062.0 878.8,2081.0 880.0,2084.1 881.2,2084.9 882.4,2084.7 883.6,2081.7 884.8,2085.5 886.0,2084.2 887.2,2081.9 888.4,2086.3 889.6,2082.5 890.8,2077.5 892.0,2084.2 893.2,2079.5 894.4,2082.6 895.6,2075.1 896.8,2079.2 898.0,2075.1 899.2,2074.6 900.4,2071.8 901.6,2085.8 902.8,2078.3 904.0,2080.0 905.2,2090.7 906.4,2086.6 907.6,2077.0 908.8,2068.9 910.0,2072.5 911.2,2069.1 912.4,2071.7 913.6,2070.1 914.8,2064.3 916.0,2065.0 917.2,2071.6 918.4,2080.1 919.6,2076.2 920.8,2073.3 922.0,2062.3 923.2,2059.5 924.4,2067.3 925.6,2080.4 926.8,2069.4 928.0,2011.5 929.2,2070.6 930.4,2066.2 931.6,2066.4 932.8,2068.4 934.0,2066.7 935.2,2064.7 936.4,2072.2 937.6,2063.3 938.8,2064.3 940.0,2060.3 941.2,2063.7 942.4,2067.9 943.6,2069.2 944.8,2066.9 946.0,2069.0 947.2,2068.1 948.4,2061.8 949.6,2057.4 950.8,2076.7 952.0,2070.3 953.2,2064.2 954.4,2055.5 955.6,2108.5 956.8,2066.3 958.0,2053.1 959.2,2062.4 960.4,2078.5 961.6,2065.9 962.8,2054.0 964.0,2068.6 965.2,2079.9 966.4,2071.0 967.6,2066.2 968.8,2068.0 970.0,2068.1 971.2,2059.3 972.4,2062.9 973.6,2061.9 974.8,2064.0 976.0,2074.8 977.2,2087.9 978.4,2073.0 979.6,2065.1 980.8,2064.3 982.0,2065.8 983.2,2070.7 984.4,2072.5 985.6,2080.4 986.8,2063.7 988.0,2068.4 989.2,2068.7 990.4,2069.8 991.6,2070.3 992.8,2070.7 994.0,2074.4 995.2,2073.9 996.4,2071.6 997.6,2065.8 998.8,2067.8 1000.0,2065.7 1001.2,2058.4 1002.4,2066.8 1003.6,2063.8 1004.8,2067.3 1006.0,2063.0 1007.2,2062.6 1008.4,2062.2 1009.6,2059.3 1010.8,2055.0 1012.0,2048.5 1013.2,2061.0 1014.4,2049.4 1015.6,2053.7 1016.8,2054.5 1018.0,2050.8 1019.2,2048.9 1020.4,2048.8 1021.6,2049.6 1022.8,2045.5 1024.0,2053.8 1025.2,2042.0 1026.4,2047.6 1027.6,2045.3 1028.8,2044.3 1030.0,2046.8 1031.2,2050.5 1032.4,2043.6 1033.6,2045.2 1034.8,2051.7 1036.0,2143.0 1037.2,2053.3 1038.4,2058.9 1039.6,2045.4 1040.8,2042.8 1042.0,2044.0 1043.2,2042.0 1044.4,2040.3 1045.6,2047.7 1046.8,2049.8 1048.0,2049.5 1049.2,2048.0 1050.4,2054.5 1051.6,2051.1 1052.8,2052.3 1054.0,2047.4 1055.2,2046.4 1056.4,2048.5 1057.6,2048.9 1058.8,2045.8 1060.0,2045.7 1061.2,2048.9 1062.4,2045.9 1063.6,2040.9 1064.8,2042.4 1066.0,2041.2 1067.2,2043.8 1068.4,2039.5 1069.6,2043.1 1070.8,2046.3 1072.0,2045.4 1073.2,2043.9 1074.4,2046.7 1075.6,2049.7 1076.8,2049.6 1078.0,2049.5 1079.2,2044.6 1080.4,2038.9 1081.6,2046.5 1082.8,2040.8 1085.0,2046.0 1086.5,2133.0 1088.5,2042.0 1093.0,2000.0 1098.0,1960.0 1104.0,1800.0 1108.0,1650.0 1111.6,1488.0 1113.0,1400.0 1148.3,1400.0 1148.5,2500.0" fill="none" stroke="#000" stroke-width="8.5" stroke-linejoin="round" stroke-linecap="round"/>
<polyline points="244.0,2103.7 245.2,2103.6 246.4,2105.2 247.6,2111.6 248.8,2109.9 250.0,2100.7 251.2,2102.1 252.4,2105.7 253.6,2099.8 254.8,2102.3 256.0,2108.6 257.2,2103.7 258.4,2105.3 259.6,2102.8 260.8,2103.8 262.0,2107.3 263.2,2102.4 264.4,2104.2 265.6,2110.6 266.8,2116.2 268.0,2107.8 269.2,2101.9 270.4,2100.2 271.6,2101.7 272.8,2101.4 274.0,2096.5 275.2,2103.2 276.4,2102.9 277.6,2107.0 278.8,2102.0 280.0,2110.0 281.2,2106.9 282.4,2104.2 283.6,2111.4 284.8,2104.8 286.0,2106.0 287.2,2103.2 288.4,2105.4 289.6,2104.1 290.8,2103.3 292.0,2104.3 293.2,2099.8 294.4,2101.7 295.6,2109.1 296.8,2103.6 298.0,2105.1 299.2,2102.3 300.4,2098.5 301.6,2100.3 302.8,2100.7 304.0,2102.4 305.2,2105.8 306.4,2109.7 307.6,2110.3 308.8,2102.3 310.0,2101.9 311.2,2107.2 312.4,2105.5 313.6,2103.8 314.8,2096.7 316.0,2101.0 317.2,2105.4 318.4,2104.4 319.6,2112.1 320.8,2106.1 322.0,2106.0 323.2,2101.5 324.4,2101.9 325.6,2103.7 326.8,2103.8 328.0,2103.6 329.2,2104.0 330.4,2102.8 331.6,2105.6 332.8,2099.7 334.0,2104.8 335.2,2105.5 336.4,2108.0 337.6,2101.5 338.8,2102.2 340.0,2098.5 341.2,2101.5 342.4,2102.1 343.6,2102.2 344.8,2105.6 346.0,2109.7 347.2,2112.4 348.4,2106.4 349.6,2111.0 350.8,2106.4 352.0,2112.7 353.2,2112.1 354.4,2107.4 355.6,2105.4 356.8,2112.6 358.0,2105.8 359.2,2104.0 360.4,2102.0 361.6,2104.0 362.8,2107.7 364.0,2107.0 365.2,2102.7 366.4,2108.4 367.6,2104.7 368.8,2100.1 370.0,2104.5 371.2,2100.8 372.4,2105.5 373.6,2103.6 374.8,2108.2 376.0,2101.7 377.2,2105.7 378.4,2099.1 379.6,2104.3 380.8,2097.1 382.0,2104.5 383.2,2106.9 384.4,2104.6 385.6,2104.9 386.8,2098.6 388.0,2107.9 389.2,2109.9 390.4,2103.8 391.6,2106.8 392.8,2107.4 394.0,2108.7 395.2,2108.9 396.4,2101.0 397.6,2109.2 398.8,2106.0 400.0,2102.4 401.2,2106.5 402.4,2102.1 403.6,2106.6 404.8,2105.3 406.0,2103.2 407.2,2108.9 408.4,2109.6 409.6,2107.6 410.8,2105.4 412.0,2107.0 413.2,2109.0 414.4,2105.2 415.6,2110.5 416.8,2106.8 418.0,2107.1 419.2,2108.2 420.4,2104.5 421.6,2106.5 422.8,2104.9 424.0,2099.2 425.2,2099.3 426.4,2104.9 427.6,2103.0 428.8,2106.4 430.0,2105.0 431.2,2109.5 432.4,2109.7 433.6,2104.1 434.8,2098.6 436.0,2106.2 437.2,2104.3 438.4,2106.1 439.6,2110.1 440.8,2101.6 442.0,2107.8 443.2,2101.9 444.4,2101.4 445.6,2100.3 446.8,2101.6 448.0,2103.2 449.2,2105.5 450.4,2107.0 451.6,2111.7 452.8,2112.8 454.0,2110.3 455.2,2110.1 456.4,2106.5 457.6,2104.1 458.8,2108.5 460.0,2105.9 461.2,2107.0 462.4,2099.2 463.6,2113.1 464.8,2103.2 466.0,2108.1 467.2,2111.4 468.4,2105.3 469.6,2108.2 470.8,2104.6 472.0,2105.9 473.2,2103.6 474.4,2108.5 475.6,2108.5 476.8,2108.4 478.0,2114.4 479.2,2116.3 480.4,2111.9 481.6,2110.4 482.8,2109.3 484.0,2108.4 485.2,2113.3 486.4,2110.2 487.6,2109.0 488.8,2109.8 490.0,2112.5 491.2,2110.3 492.4,2111.3 493.6,2107.7 494.8,2109.1 496.0,2108.1 497.2,2101.0 498.4,2104.6 499.6,2107.2 500.8,2105.0 502.0,2109.6 503.2,2109.3 504.4,2110.5 505.6,2108.7 506.8,2110.0 508.0,2111.4 509.2,2106.5 510.4,2108.8 511.6,2109.3 512.8,2116.5 514.0,2111.9 515.2,2111.4 516.4,2110.0 517.6,2107.3 518.8,2105.9 520.0,2110.3 521.2,2106.9 522.4,2112.4 523.6,2108.0 524.8,2107.2 526.0,2105.8 527.2,2106.1 528.4,2106.3 529.6,2110.5 530.8,2112.7 532.0,2102.8 533.2,2106.7 534.4,2108.0 535.6,2104.5 536.8,2106.4 538.0,2107.9 539.2,2103.6 540.4,2111.0 541.6,2107.4 542.8,2105.6 544.0,2106.3 545.2,2106.9 546.4,2112.8 547.6,2107.5 548.8,2109.9 550.0,2106.6 551.2,2108.6 552.4,2106.2 553.6,2106.1 554.8,2103.5 556.0,2103.8 557.2,2107.7 558.4,2108.8 559.6,2107.5 560.8,2102.5 562.0,2103.4 563.2,2093.6 564.4,2105.6 565.6,2106.1 566.8,2109.7 568.0,2111.7 569.2,2106.7 570.4,2110.1 571.6,2105.6 572.8,2109.2 574.0,2107.4 575.2,2109.5 576.4,2112.9 577.6,2107.1 578.8,2107.4 580.0,2107.6 581.2,2107.0 582.4,2111.4 583.6,2101.3 584.8,2103.7 586.0,2114.1 587.2,2110.3 588.4,2111.6 589.6,2111.6 590.8,2107.3 592.0,2106.8 593.2,2103.5 594.4,2108.8 595.6,2104.8 596.8,2108.4 598.0,2106.8 599.2,2100.0 600.4,2104.1 601.6,2108.6 602.8,2112.5 604.0,2105.5 605.2,2109.8 606.4,2115.1 607.6,2109.3 608.8,2109.4 610.0,2108.1 611.2,2104.0 612.4,2110.6 613.6,2109.6 614.8,2110.3 616.0,2112.9 617.2,2114.0 618.4,2107.4 619.6,2113.0 620.8,2108.8 622.0,2109.6 623.2,2105.8 624.4,2104.5 625.6,2108.9 626.8,2105.4 628.0,2107.4 629.2,2110.1 630.4,2113.1 631.6,2111.7 632.8,2104.0 634.0,2107.1 635.2,2108.4 636.4,2110.7 637.6,2112.0 638.8,2106.9 640.0,2117.5 641.2,2114.9 642.4,2117.3 643.6,2112.5 644.8,2110.4 646.0,2114.2 647.2,2108.5 648.4,2108.5 649.6,2111.8 650.8,2113.1 652.0,2104.2 653.2,2108.2 654.4,2109.0 655.6,2113.4 656.8,2114.2 658.0,2106.1 659.2,2107.5 660.4,2109.2 661.6,2110.3 662.8,2106.4 664.0,2109.4 665.2,2104.7 666.4,2098.9 667.6,2101.7 668.8,2105.1 670.0,2105.7 671.2,2096.5 672.4,2097.8 673.6,2102.7 674.8,2093.1 676.0,2104.2 677.2,2105.6 678.4,2094.4 679.6,2104.8 680.8,2101.7 682.0,2105.8 683.2,2102.2 684.4,2100.4 685.6,2101.2 686.8,2103.2 688.0,2100.9 689.2,2100.2 690.4,2095.6 691.6,2100.1 692.8,2097.9 694.0,2102.1 695.2,2096.0 696.4,2095.4 697.6,2093.7 698.8,2097.3 700.0,2093.8 701.2,2091.0 702.4,2096.0 703.6,2095.3 704.8,2088.6 706.0,2086.5 707.2,2092.5 708.4,2087.4 709.6,2098.2 710.8,2090.4 712.0,2092.0 713.2,2079.9 714.4,2079.9 715.6,2084.3 716.8,2083.6 718.0,2082.1 719.2,2091.7 720.4,2089.2 721.6,2089.0 722.8,2090.4 724.0,2087.4 725.2,2086.5 726.4,2075.1 727.6,2074.8 728.8,2076.8 730.0,2086.9 731.2,2080.0 732.4,2080.0 733.6,2076.3 734.8,2070.2 736.0,2072.0 737.2,2076.1 738.4,2072.4 739.6,2078.2 740.8,2086.7 742.0,2076.4 743.2,2078.5 744.4,2072.1 745.6,2076.4 746.8,2072.7 748.0,2073.6 749.2,2068.3 750.4,2062.1 751.6,2066.4 752.8,2061.5 754.0,2058.1 755.2,2060.3 756.4,2056.6 757.6,2059.6 758.8,2058.1 760.0,2058.2 761.2,2062.2 762.4,2057.7 763.6,2065.1 764.8,2054.6 766.0,2062.5 767.2,2057.8 768.4,2056.6 769.6,2055.3 770.8,2059.0 772.0,2057.0 773.2,2056.9 774.4,2060.3 775.6,2055.9 776.8,2056.3 778.0,2058.0 779.2,2059.6 780.4,2056.0 781.6,2056.6 782.8,2056.1 784.0,2057.6 785.2,2059.0 786.4,2051.4 787.6,2052.5 788.8,2050.0 790.0,2049.1 791.2,2052.9 792.4,2051.3 793.6,2054.5 794.8,2058.5 796.0,2047.7 797.2,2045.0 798.4,2041.8 799.6,2041.7 800.8,2045.5 802.0,2046.5 803.2,2056.1 804.4,2049.4 805.6,2048.4 806.8,2049.6 808.0,2047.6 809.2,2045.6 810.4,2046.8 811.6,2047.4 812.8,2044.3 814.0,2045.4 815.2,2040.8 816.4,2043.3 817.6,2038.3 818.8,2040.2 820.0,2039.5 821.2,2046.2 822.4,2041.3 823.6,2043.1 824.8,2038.9 826.0,2040.3 827.2,2039.2 828.4,2036.5 829.6,2040.4 830.8,2032.3 832.0,2039.5 833.2,2047.8 834.4,2040.3 835.6,2041.0 836.8,2034.7 838.0,2037.3 839.2,2033.5 840.4,2041.6 841.6,2039.8 842.8,2037.4 844.0,2037.9 845.2,2035.5 846.4,2037.6 847.6,2039.3 848.8,2034.8 850.0,2031.6 851.2,2033.0 852.4,2036.6 853.6,2030.3 854.8,2039.6 856.0,2039.4 857.2,2031.5 858.4,2042.1 859.6,2031.7 860.8,2033.5 862.0,2035.4 863.2,2027.7 864.4,2027.4 865.6,2029.8 866.8,2030.2 868.0,2034.6 869.2,2035.9 870.4,2036.7 871.6,2034.6 872.8,2033.4 874.0,2029.3 875.2,2030.8 876.4,2029.9 877.6,2027.0 878.8,2035.1 880.0,2026.9 881.2,2033.6 882.4,2030.3 883.6,2032.7 884.8,2031.1 886.0,2030.1 887.2,2030.2 888.4,2022.3 889.6,2031.5 890.8,2024.4 892.0,2021.5 893.2,2020.4 894.4,2031.3 895.6,2030.5 896.8,2027.6 898.0,2031.6 899.2,2034.5 900.4,2031.1 901.6,2029.7 902.8,2030.5 904.0,2032.6 905.2,2029.9 906.4,2026.0 907.6,2031.2 908.8,2023.6 910.0,2026.0 911.2,2031.2 912.4,2026.2 913.6,2023.8 914.8,2021.9 916.0,2025.9 917.2,2024.1 918.4,2020.0 919.6,2027.3 920.8,2018.2 922.0,2021.5 923.2,2030.2 924.4,2026.6 925.6,2020.3 926.8,2020.5 928.0,2022.0 929.2,2025.8 930.4,2021.8 931.6,2022.6 932.8,2021.2 934.0,2021.1 935.2,2021.3 936.4,2019.8 937.6,2023.4 938.8,2018.6 940.0,2021.3 941.2,2019.5 942.4,2018.6 943.6,2023.8 944.8,2017.5 946.0,2013.7 947.2,2014.8 948.4,2015.0 949.6,2023.2 950.8,2026.0 952.0,2024.3 953.2,2016.1 954.4,2016.5 955.6,2021.1 956.8,2016.1 958.0,2021.2 959.2,2021.8 960.4,2013.0 961.6,2020.0 962.8,2018.2 964.0,2019.3 965.2,2023.0 966.4,2020.1 967.6,2018.9 968.8,2020.3 970.0,2017.4 971.2,2019.3 972.4,2011.6 973.6,2021.7 974.8,2015.9 976.0,2020.3 977.2,2020.9 978.4,2020.9 979.6,2019.9 980.8,2018.8 982.0,2012.9 983.2,2015.0 984.4,2019.1 985.6,2011.8 986.8,2010.7 988.0,2017.5 989.2,2012.6 990.4,2011.3 991.6,2005.2 992.8,2008.4 994.0,2012.1 995.2,2013.8 996.4,2013.0 997.6,2008.9 998.8,2010.7 1000.0,2007.9 1001.2,2016.1 1002.4,2009.9 1003.6,2010.0 1004.8,2011.2 1006.0,2010.4 1007.2,2011.7 1008.4,2009.4 1009.6,2009.0 1010.8,2020.0 1012.0,2013.3 1013.2,2014.4 1014.4,2013.9 1015.6,2015.3 1016.8,2017.5 1018.0,2020.2 1019.2,2015.1 1020.4,2017.9 1021.6,2014.2 1022.8,2018.6 1024.0,2009.8 1025.2,2011.6 1026.4,2011.3 1027.6,2004.3 1028.8,2009.3 1030.0,2010.2 1031.2,2007.8 1032.4,2007.3 1033.6,2008.5 1034.8,2005.5 1036.0,2005.7 1037.2,2008.3 1038.4,2011.7 1039.6,2013.5 1040.8,2011.5 1042.0,2010.8 1043.2,2012.2 1044.4,2002.2 1045.6,2001.4 1046.8,1997.8 1048.0,2007.0 1049.2,1998.5 1050.4,2005.1 1051.6,2007.0 1052.8,2000.5 1054.0,2002.2 1055.2,2002.8 1056.4,2005.1 1057.6,1998.2 1058.8,2002.8 1060.0,2004.3 1061.2,2005.1 1062.4,2007.5 1063.6,2012.5 1064.8,2011.5 1066.0,2012.7 1067.2,2010.1 1068.4,2010.8 1069.6,2006.1 1070.8,2006.7 1072.0,2004.5 1073.2,2007.4 1074.4,2002.0 1075.6,2003.5 1076.8,2003.2 1078.0,2002.3 1079.2,2003.3 1080.4,2000.4 1081.6,2001.1 1082.8,2003.8 1084.0,2003.6 1085.2,2001.2 1086.4,2001.8 1087.6,2005.6 1088.8,2000.6 1090.0,2000.4 1091.2,1997.0 1092.4,2001.6 1093.6,2002.1 1094.8,1996.3 1096.0,1999.9 1097.2,1997.8 1098.4,1994.4 1099.6,1999.4 1100.8,1998.2 1102.0,2000.9 1103.2,2006.0 1104.4,2002.2 1105.6,2001.0 1106.8,1996.2 1108.0,1994.4 1109.2,2001.8 1110.4,1998.1 1111.6,1997.7 1112.8,1994.5 1114.0,1993.8 1115.2,1999.4 1116.4,1992.6 1117.6,1993.6 1118.8,1995.8 1120.0,1997.5 1121.2,1995.2 1122.4,1995.1 1123.6,1996.1 1124.8,1994.7 1126.0,1990.6 1127.2,1988.9 1128.4,1989.3 1129.6,1991.1 1130.8,1992.9 1132.0,1990.2 1133.2,1994.8 1134.4,1998.9 1135.6,1997.7 1136.8,1993.0 1138.0,1994.6 1139.2,1995.1 1140.4,1998.0 1141.6,1992.0 1142.8,1996.3 1144.0,1989.8 1145.2,1988.5 1146.4,1987.0 1147.6,1984.7 1148.8,1987.0 1150.0,1978.0 1151.2,1993.7 1152.4,1988.5 1153.6,1984.4 1154.8,1984.8 1156.0,1987.3 1157.2,1989.0 1158.4,1984.4 1159.6,1986.1 1160.8,1987.7 1162.0,1989.0 1163.2,1987.8 1164.4,1989.7 1165.6,1991.9 1166.8,1992.1 1168.0,1973.0 1169.2,1983.6 1170.4,1981.0 1171.6,1980.4 1172.8,1985.5 1174.0,1986.8 1175.2,1983.9 1176.4,1987.7 1177.6,1998.0 1178.8,1983.1 1180.0,1980.5 1181.2,1984.9 1182.4,1983.2 1183.6,1984.6 1184.8,1984.3 1188.0,1980.0 1190.0,1960.0 1192.0,1900.0 1196.8,1488.0 1198.0,1400.0 1235.8,1400.0 1236.0,2500.0" fill="none" stroke="#f00" stroke-width="8.5" stroke-linejoin="round" stroke-linecap="round"/>
<polyline points="244.0,2001.3 245.2,2004.3 246.4,2005.9 247.6,2012.9 248.8,2014.9 250.0,2017.8 251.2,2013.7 252.4,2011.3 253.6,2010.2 254.8,2010.4 256.0,2007.8 257.2,2003.3 258.4,2003.2 259.6,2004.2 260.8,1998.3 262.0,2001.6 263.2,1997.8 264.4,1999.4 265.6,1995.0 266.8,1998.4 268.0,1992.9 269.2,1995.7 270.4,1993.1 271.6,1974.8 272.8,1987.9 274.0,1991.9 275.2,1989.1 276.4,1990.1 277.6,1988.2 278.8,1982.0 280.0,1989.5 281.2,1988.3 282.4,1989.0 283.6,1989.6 284.8,1989.5 286.0,1989.6 287.2,1995.1 288.4,1994.3 289.6,1992.8 290.8,1994.2 292.0,1998.2 293.2,1997.9 294.4,1998.0 295.6,1995.3 296.8,1997.6 298.0,1996.5 299.2,1995.3 300.4,2002.0 301.6,1999.8 302.8,2000.2 304.0,1999.5 305.2,2003.8 306.4,2005.5 307.6,2000.2 308.8,1998.9 310.0,1992.1 311.2,1993.2 312.4,1991.2 313.6,1992.0 314.8,1989.7 316.0,1989.7 317.2,1993.7 318.4,1995.0 319.6,2001.2 320.8,2001.5 322.0,2002.9 323.2,2004.6 324.4,2003.9 325.6,1998.9 326.8,1995.8 328.0,1991.6 329.2,1996.2 330.4,1992.6 331.6,1990.8 332.8,1992.2 334.0,1999.2 335.2,1996.8 336.4,2005.1 337.6,2004.0 338.8,2008.4 340.0,2009.2 341.2,2009.7 342.4,2006.6 343.6,2005.8 344.8,2001.3 346.0,1997.1 347.2,1999.1 348.4,1998.4 349.6,1994.8 350.8,1992.9 352.0,1995.7 353.2,1992.8 354.4,1997.6 355.6,2002.6 356.8,2002.9 358.0,2001.7 359.2,2003.5 360.4,1998.2 361.6,1996.9 362.8,1989.1 364.0,1987.9 365.2,1986.7 366.4,1983.5 367.6,1980.9 368.8,1977.8 370.0,1981.5 371.2,1987.0 372.4,1991.9 373.6,1990.8 374.8,1996.1 376.0,1996.6 377.2,1997.7 378.4,1999.8 379.6,1995.0 380.8,1999.3 382.0,1994.7 383.2,1997.1 384.4,1984.5 385.6,1999.9 386.8,1967.5 388.0,2002.4 389.2,2004.3 390.4,2005.9 391.6,2004.0 392.8,2006.5 394.0,2006.5 395.2,2006.1 396.4,2004.6 397.6,2006.2 398.8,1997.7 400.0,1993.2 401.2,1992.8 402.4,1991.4 403.6,1988.0 404.8,1986.7 406.0,1990.1 407.2,1991.6 408.4,1989.9 409.6,1991.7 410.8,1998.3 412.0,1992.2 413.2,1998.2 414.4,1995.4 415.6,1997.2 416.8,1993.7 418.0,1988.6 419.2,1991.4 420.4,1986.2 421.6,1993.4 422.8,1994.3 424.0,1992.2 425.2,1995.7 426.4,1996.1 427.6,1995.3 428.8,2001.3 430.0,2001.6 431.2,2004.1 432.4,2006.3 433.6,2004.0 434.8,1999.9 436.0,1994.2 437.2,1991.3 438.4,1988.8 439.6,1988.4 440.8,1991.6 442.0,1999.6 443.2,2000.1 444.4,2006.6 445.6,2004.3 446.8,2006.9 448.0,2004.0 449.2,2002.0 450.4,2000.1 451.6,1998.4 452.8,1995.7 454.0,1998.5 455.2,1994.0 456.4,1988.8 457.6,1987.1 458.8,1989.3 460.0,1992.3 461.2,1993.2 462.4,1999.9 463.6,1998.1 464.8,2003.2 466.0,2005.7 467.2,1993.9 468.4,1996.9 469.6,1997.1 470.8,1992.4 472.0,1988.7 473.2,1986.1 474.4,1984.4 475.6,1987.2 476.8,1991.3 478.0,1991.0 479.2,1993.3 480.4,1994.1 481.6,1996.1 482.8,1993.0 484.0,1996.0 485.2,1994.6 486.4,1993.4 487.6,1967.5 488.8,1986.6 490.0,1991.5 491.2,1990.5 492.4,1992.6 493.6,1988.4 494.8,1982.1 496.0,1991.2 497.2,1990.6 498.4,1994.1 499.6,1992.0 500.8,1996.7 502.0,1995.9 503.2,1992.6 504.4,1996.4 505.6,1995.0 506.8,1992.4 508.0,1992.1 509.2,1992.7 510.4,1987.7 511.6,1986.4 512.8,1989.5 514.0,1995.4 515.2,1996.6 516.4,1995.1 517.6,2003.4 518.8,2003.3 520.0,2002.0 521.2,1996.6 522.4,1988.8 523.6,1985.6 524.8,1979.4 526.0,1974.9 527.2,1971.7 528.4,1958.6 529.6,1972.5 530.8,1972.2 532.0,1980.3 533.2,1983.5 534.4,1987.6 535.6,1972.0 536.8,1996.5 538.0,2005.0 539.2,2005.9 540.4,2004.2 541.6,2002.7 542.8,1992.6 544.0,1988.0 545.2,1984.9 546.4,1980.1 547.6,1979.8 548.8,1977.5 550.0,1980.3 551.2,1974.0 552.4,1987.3 553.6,1985.3 554.8,1989.6 556.0,1990.8 557.2,1993.6 558.4,1990.0 559.6,1994.9 560.8,1991.2 562.0,1995.1 563.2,1994.1 564.4,1989.9 565.6,1990.8 566.8,1991.5 568.0,1992.4 569.2,1986.6 570.4,1987.9 571.6,1989.7 572.8,1988.8 574.0,1985.7 575.2,1986.2 576.4,1989.3 577.6,1986.4 578.8,1989.3 580.0,1991.0 581.2,1989.3 582.4,1983.6 583.6,1994.3 584.8,1997.2 586.0,2000.6 587.2,2002.3 588.4,1999.6 589.6,2009.2 590.8,2007.2 592.0,2004.3 593.2,1997.7 594.4,1993.3 595.6,1989.1 596.8,1989.0 598.0,1981.9 599.2,1976.6 600.4,1970.1 601.6,1971.4 602.8,1973.7 604.0,1977.4 605.2,1982.5 606.4,1985.3 607.6,1978.3 608.8,1990.9 610.0,1994.0 611.2,1998.7 612.4,1997.7 613.6,1994.8 614.8,1990.9 616.0,1992.9 617.2,1991.3 618.4,1985.3 619.6,1988.2 620.8,1988.4 622.0,1986.3 623.2,1992.9 624.4,1997.0 625.6,1987.6 626.8,1997.1 628.0,2001.0 629.2,1995.6 630.4,1995.2 631.6,1995.8 632.8,1997.0 634.0,1996.3 635.2,1992.9 636.4,1992.6 637.6,1993.0 638.8,1991.5 640.0,1990.0 641.2,1989.1 642.4,1992.6 643.6,1990.2 644.8,1996.5 646.0,1991.1 647.2,1987.7 648.4,1988.0 649.6,1986.2 650.8,1983.7 652.0,1981.2 653.2,1978.2 654.4,1974.4 655.6,1978.7 656.8,1984.6 658.0,1981.4 659.2,1984.1 660.4,1989.1 661.6,1992.9 662.8,1994.5 664.0,1996.9 665.2,1992.4 666.4,1990.2 667.6,1990.4 668.8,1988.7 670.0,1989.2 671.2,1987.2 672.4,1978.1 673.6,1982.2 674.8,1968.0 676.0,1974.6 677.2,1979.8 678.4,1978.4 679.6,1977.7 680.8,1975.4 682.0,1975.7 683.2,1977.3 684.4,1974.2 685.6,1977.0 686.8,1977.2 688.0,1976.4 689.2,1977.1 690.4,1976.1 691.6,1973.4 692.8,1973.5 694.0,1966.2 695.2,1978.8 696.4,1977.7 697.6,1970.0 698.8,1979.2 700.0,1973.7 701.2,1974.0 702.4,1973.8 703.6,1973.0 704.8,1970.9 706.0,1969.5 707.2,1966.0 708.4,1968.3 709.6,1971.3 710.8,1967.9 712.0,1970.5 713.2,1973.6 714.4,1978.8 715.6,1978.3 716.8,1981.4 718.0,1982.2 719.2,1976.4 720.4,1975.0 721.6,1970.4 722.8,1973.3 724.0,1970.1 725.2,1967.6 726.4,1965.5 727.6,1962.9 728.8,1963.5 730.0,1965.0 731.2,1968.4 732.4,1965.3 733.6,1966.1 734.8,1969.7 736.0,1973.6 737.2,1972.0 738.4,1970.0 739.6,1971.3 740.8,1968.6 742.0,1963.2 743.2,1964.1 744.4,1960.7 745.6,1965.2 746.8,1965.5 748.0,1968.2 749.2,1972.6 750.4,1967.5 751.6,1969.6 752.8,1969.6 754.0,1965.0 755.2,1970.3 756.4,1968.7 757.6,1967.4 758.8,1961.4 760.0,1956.9 761.2,1957.5 762.4,1952.5 763.6,1947.2 764.8,1943.9 766.0,1947.1 767.2,1953.0 768.4,1957.8 769.6,1955.2 770.8,1964.0 772.0,1965.0 773.2,1966.5 774.4,1967.3 775.6,1962.6 776.8,1966.0 778.0,1960.8 779.2,1962.1 780.4,1960.7 781.6,1965.8 782.8,1965.2 784.0,1962.5 785.2,1961.1 786.4,1958.1 787.6,1962.2 788.8,1960.7 790.0,1958.8 791.2,1955.8 792.4,1954.2 793.6,1953.4 794.8,1955.0 796.0,1948.6 797.2,1949.5 798.4,1952.1 799.6,1951.3 800.8,1954.0 802.0,1951.9 803.2,1952.8 804.4,1955.7 805.6,1954.9 806.8,1955.1 808.0,1950.7 809.2,1946.0 810.4,1949.9 811.6,1935.0 812.8,1939.8 814.0,1940.7 815.2,1934.2 816.4,1933.2 817.6,1937.4 818.8,1941.0 820.0,1944.3 821.2,1947.4 822.4,1950.9 823.6,1951.1 824.8,1953.9 826.0,1951.3 827.2,1948.5 828.4,1949.1 829.6,1947.4 830.8,1949.0 832.0,1944.6 833.2,1940.2 834.4,1941.4 835.6,1937.9 836.8,1940.4 838.0,1934.2 839.2,1937.3 840.4,1938.2 841.6,1940.8 842.8,1941.1 844.0,1938.6 845.2,1935.2 846.4,1936.9 847.6,1937.0 848.8,1934.2 850.0,1927.4 851.2,1926.6 852.4,1923.1 853.6,1923.9 854.8,1931.7 856.0,1932.5 857.2,1932.4 858.4,1934.3 859.6,1939.1 860.8,1939.9 862.0,1940.5 863.2,1942.3 864.4,1940.0 865.6,1937.4 866.8,1935.0 868.0,1936.9 869.2,1932.2 870.4,1928.9 871.6,1935.2 872.8,1934.0 874.0,1932.5 875.2,1931.3 876.4,1920.0 877.6,1928.3 878.8,1930.9 880.0,1929.7 881.2,1926.9 882.4,1926.5 883.6,1922.1 884.8,1922.4 886.0,1932.0 887.2,1918.4 888.4,1915.3 889.6,1913.0 890.8,1915.6 892.0,1917.1 893.2,1916.4 894.4,1920.3 895.6,1955.0 896.8,1921.5 898.0,1921.7 899.2,1919.4 900.4,1923.7 901.6,1916.4 902.8,1919.3 904.0,1917.1 905.2,1917.4 906.4,1911.1 907.6,1910.7 908.8,1910.9 910.0,1913.5 911.2,1914.3 912.4,1914.9 913.6,1915.0 914.8,1914.8 916.0,1914.1 917.2,1916.8 918.4,1919.6 919.6,1920.0 920.8,1915.7 922.0,1918.1 923.2,1911.8 924.4,1915.4 925.6,1911.0 926.8,1915.9 928.0,1915.3 929.2,1917.3 930.4,1920.3 931.6,1926.6 932.8,1924.1 934.0,1928.9 935.2,1929.9 936.4,1932.3 937.6,1926.9 938.8,1921.2 940.0,1910.8 941.2,1907.1 942.4,1901.4 943.6,1898.3 944.8,1903.5 946.0,1903.7 947.2,1910.6 948.4,1910.7 949.6,1914.7 950.8,1920.2 952.0,1924.0 953.2,1919.2 954.4,1915.6 955.6,1915.6 956.8,1903.7 958.0,1909.3 959.2,1905.7 960.4,1897.1 961.6,1898.5 962.8,1894.5 964.0,1898.1 965.2,1895.5 966.4,1902.7 967.6,1906.7 968.8,1909.6 970.0,1913.0 971.2,1910.6 972.4,1900.7 973.6,1902.1 974.8,1915.0 976.0,1893.6 977.2,1888.3 978.4,1887.1 979.6,1889.1 980.8,1893.6 982.0,1889.4 983.2,1896.2 984.4,1877.4 985.6,1893.3 986.8,1893.4 988.0,1899.8 989.2,1896.1 990.4,1900.2 991.6,1897.5 992.8,1893.9 994.0,1892.1 995.2,1893.0 996.4,1890.8 997.6,1890.5 998.8,1887.3 1000.0,1887.0 1001.2,1892.0 1002.4,1890.9 1003.6,1898.1 1004.8,1899.1 1006.0,1898.4 1007.2,1896.2 1008.4,1895.2 1009.6,1889.4 1010.8,1893.9 1012.0,1890.4 1013.2,1883.5 1014.4,1883.1 1015.6,1887.0 1016.8,1887.5 1018.0,1887.7 1019.2,1888.5 1020.4,1892.9 1021.6,1902.2 1022.8,1903.6 1024.0,1901.5 1025.2,1903.7 1026.4,1899.2 1027.6,1905.0 1028.8,1894.5 1030.0,1892.4 1031.2,1894.8 1032.4,1887.0 1033.6,1886.0 1034.8,1889.2 1036.0,1891.3 1037.2,1887.6 1038.4,1896.0 1039.6,1895.7 1040.8,1891.8 1042.0,1900.7 1043.2,1893.1 1044.4,1896.2 1045.6,1890.6 1046.8,1887.6 1048.0,1891.7 1049.2,1889.1 1050.4,1886.9 1051.6,1889.3 1052.8,1890.6 1054.0,1892.1 1055.2,1892.2 1056.4,1897.7 1057.6,1898.4 1058.8,1899.7 1060.0,1900.9 1061.2,1903.4 1062.4,1901.2 1063.6,1887.0 1064.8,1883.7 1066.0,1879.4 1067.2,1865.2 1068.4,1867.5 1069.6,1870.5 1070.8,1874.2 1072.0,1875.5 1073.2,1876.5 1074.4,1883.2 1075.6,1880.4 1076.8,1883.1 1078.0,1890.4 1079.2,1884.4 1080.4,1888.7 1081.6,1884.8 1082.8,1878.1 1084.0,1876.8 1085.2,1877.2 1086.4,1869.4 1087.6,1869.4 1088.8,1869.0 1090.0,1868.6 1091.2,1873.5 1092.4,1875.3 1093.6,1879.2 1094.8,1882.0 1096.0,1878.6 1097.2,1876.7 1098.4,1871.6 1099.6,1871.7 1100.8,1864.7 1102.0,1860.2 1103.2,1860.6 1104.4,1857.3 1105.6,1858.1 1106.8,1862.5 1108.0,1862.1 1109.2,1867.9 1110.4,1872.0 1111.6,1872.7 1112.8,1872.8 1114.0,1875.6 1115.2,1879.1 1116.4,1878.9 1117.6,1873.7 1118.8,1872.0 1120.0,1873.5 1121.2,1869.9 1122.4,1868.5 1123.6,1867.1 1124.8,1863.1 1126.0,1863.3 1127.2,1864.9 1128.4,1861.1 1129.6,1859.9 1130.8,1859.8 1132.0,1859.5 1133.2,1863.7 1134.4,1856.0 1135.6,1857.6 1136.8,1861.3 1138.0,1856.5 1139.2,1856.8 1140.4,1852.4 1141.6,1858.5 1142.8,1861.3 1144.0,1864.1 1145.2,1864.9 1146.4,1869.1 1147.6,1871.1 1148.8,1875.5 1150.0,1871.8 1151.2,1871.7 1152.4,1865.2 1153.6,1865.6 1154.8,1858.3 1156.0,1862.4 1157.2,1862.6 1158.4,1858.5 1159.6,1864.2 1160.8,1859.2 1162.0,1862.9 1163.2,1863.9 1164.4,1867.1 1165.6,1869.4 1166.8,1869.5 1168.0,1872.9 1169.2,1878.8 1170.4,1870.3 1171.6,1869.4 1172.8,1861.2 1174.0,1846.9 1175.2,1858.2 1176.4,1853.2 1177.6,1849.0 1178.8,1846.3 1180.0,1847.5 1181.2,1852.4 1182.4,1856.3 1183.6,1853.9 1184.8,1855.4 1186.0,1862.2 1187.2,1860.9 1188.4,1860.7 1189.6,1859.8 1190.8,1854.3 1192.0,1858.5 1193.2,1852.8 1194.4,1847.6 1195.6,1854.1 1196.8,1853.1 1198.0,1853.6 1199.2,1850.1 1200.4,1853.4 1201.6,1854.9 1202.8,1854.8 1204.0,1857.2 1205.2,1858.9 1206.4,1860.0 1207.6,1857.4 1208.8,1852.1 1210.0,1853.9 1211.2,1848.4 1212.4,1847.4 1213.6,1884.5 1214.8,1840.2 1216.0,1839.8 1217.2,1846.6 1218.4,1846.2 1219.6,1849.2 1220.8,1852.6 1222.0,1844.0 1223.2,1840.1 1224.4,1841.1 1225.6,1838.0 1226.8,1833.2 1228.0,1829.3 1229.2,1823.5 1230.4,1827.0 1231.6,1826.9 1232.8,1830.7 1234.0,1833.2 1235.2,1831.2 1236.4,1834.6 1237.6,1835.4 1238.8,1837.8 1240.0,1840.8 1241.2,1838.7 1242.4,1838.5 1243.6,1838.5 1244.8,1835.6 1246.0,1836.3 1247.2,1836.9 1248.4,1838.8 1249.6,1839.5 1250.8,1842.3 1252.0,1835.5 1253.2,1838.4 1254.4,1835.4 1255.6,1838.6 1256.8,1836.8 1258.0,1843.2 1259.2,1839.6 1260.4,1832.8 1261.6,1833.2 1262.8,1831.4 1264.0,1858.5 1265.2,1826.2 1266.4,1821.9 1267.6,1823.2 1268.8,1826.6 1270.0,1827.7 1271.2,1827.9 1272.4,1828.1 1273.6,1835.0 1274.8,1832.9 1276.0,1835.8 1277.2,1840.0 1278.4,1839.8 1279.6,1840.9 1280.8,1834.6 1282.0,1837.2 1283.2,1831.2 1284.4,1829.4 1285.6,1829.0 1286.8,1830.1 1288.0,1829.5 1289.2,1829.3 1290.4,1836.3 1291.6,1832.9 1292.8,1836.0 1294.0,1838.2 1295.2,1793.5 1296.4,1836.3 1297.6,1833.3 1298.8,1828.2 1300.0,1827.2 1301.2,1819.9 1302.4,1817.7 1303.6,1820.7 1304.8,1818.4 1306.0,1821.6 1307.2,1820.7 1308.4,1820.2 1309.6,1822.7 1310.8,1822.8 1312.0,1815.4 1313.2,1821.4 1314.4,1822.9 1318.6,1823.0 1322.0,1800.0 1325.0,1755.0 1328.0,1650.0 1330.7,1488.0 1332.0,1400.0 1358.5,1400.0 1358.8,2500.0" fill="none" stroke="#0f0" stroke-width="8.5" stroke-linejoin="round" stroke-linecap="round"/>
<polyline points="244.0,2012.7 245.2,2017.8 246.4,2019.8 247.6,2018.3 248.8,2019.9 250.0,2018.3 251.2,2018.0 252.4,2018.3 253.6,2012.2 254.8,2012.9 256.0,2010.7 257.2,2012.4 258.4,2015.1 259.6,2012.2 260.8,2017.6 262.0,2017.0 263.2,2017.3 264.4,2016.6 265.6,2019.0 266.8,2014.4 268.0,2019.6 269.2,2012.4 270.4,2011.5 271.6,2012.0 272.8,2008.3 274.0,2012.5 275.2,2008.7 276.4,2008.9 277.6,2011.5 278.8,2002.0 280.0,2007.3 281.2,2009.4 282.4,2018.5 283.6,2022.9 284.8,2027.5 286.0,2030.3 287.2,2024.8 288.4,2023.3 289.6,2021.6 290.8,2014.4 292.0,2019.4 293.2,2015.9 294.4,2012.0 295.6,2015.5 296.8,2015.5 298.0,2002.4 299.2,2012.0 300.4,2005.3 301.6,2014.0 302.8,2011.0 304.0,2012.0 305.2,2016.7 306.4,2012.1 307.6,2020.4 308.8,2011.8 310.0,2013.7 311.2,1978.5 312.4,2018.7 313.6,2017.5 314.8,2020.7 316.0,2022.1 317.2,2021.6 318.4,2023.0 319.6,2022.8 320.8,2017.3 322.0,2013.3 323.2,2010.6 324.4,2015.8 325.6,2013.2 326.8,2013.2 328.0,2014.9 329.2,2018.0 330.4,2019.9 331.6,2019.0 332.8,2017.2 334.0,2022.6 335.2,2014.7 336.4,2019.0 337.6,2021.1 338.8,2016.6 340.0,2017.4 341.2,2014.5 342.4,2016.4 343.6,2015.1 344.8,2014.1 346.0,2016.9 347.2,2015.7 348.4,2003.3 349.6,2005.6 350.8,2002.8 352.0,2007.4 353.2,2007.4 354.4,2010.6 355.6,2010.5 356.8,2013.6 358.0,2013.8 359.2,2007.7 360.4,2010.8 361.6,2016.4 362.8,2014.7 364.0,1977.5 365.2,2012.7 366.4,2019.7 367.6,2017.3 368.8,2012.7 370.0,2012.0 371.2,2014.6 372.4,2021.1 373.6,2020.2 374.8,2019.7 376.0,2020.7 377.2,2022.6 378.4,2022.0 379.6,2021.2 380.8,2018.2 382.0,2019.4 383.2,2020.2 384.4,2021.8 385.6,2021.3 386.8,2016.3 388.0,2016.7 389.2,2017.5 390.4,2020.4 391.6,2016.3 392.8,2015.1 394.0,2020.0 395.2,2020.3 396.4,2012.0 397.6,2013.3 398.8,2016.3 400.0,2010.5 401.2,2015.2 402.4,2011.6 403.6,2018.8 404.8,2025.0 406.0,2027.1 407.2,2023.3 408.4,2013.4 409.6,2011.6 410.8,2011.6 412.0,2014.8 413.2,2012.4 414.4,2011.5 415.6,2010.4 416.8,2007.9 418.0,2009.8 419.2,2009.6 420.4,2015.8 421.6,2008.9 422.8,2012.4 424.0,2012.5 425.2,2015.0 426.4,2009.3 427.6,2016.5 428.8,2016.0 430.0,2024.8 431.2,2020.4 432.4,2020.4 433.6,2018.3 434.8,2019.2 436.0,2019.6 437.2,2020.4 438.4,2026.4 439.6,2020.5 440.8,2025.0 442.0,2027.5 443.2,2022.2 444.4,2019.7 445.6,2025.0 446.8,2014.7 448.0,2013.6 449.2,2012.5 450.4,2012.6 451.6,2009.9 452.8,2007.6 454.0,2011.7 455.2,2008.4 456.4,2013.6 457.6,2006.1 458.8,2009.8 460.0,2011.1 461.2,2014.3 462.4,2014.8 463.6,2015.7 464.8,2023.0 466.0,2016.4 467.2,2014.7 468.4,2010.3 469.6,2004.3 470.8,2006.1 472.0,2049.0 473.2,2014.4 474.4,2008.9 475.6,2014.0 476.8,2016.6 478.0,2016.1 479.2,2017.4 480.4,2023.5 481.6,2024.6 482.8,2017.9 484.0,2012.7 485.2,2010.8 486.4,2011.0 487.6,2017.7 488.8,2017.5 490.0,2019.4 491.2,2017.6 492.4,2017.4 493.6,2010.4 494.8,2011.4 496.0,2013.7 497.2,2019.6 498.4,2022.1 499.6,2024.9 500.8,2021.1 502.0,2025.5 503.2,2027.6 504.4,2024.6 505.6,2013.4 506.8,2018.7 508.0,2014.8 509.2,2015.9 510.4,2010.8 511.6,2013.4 512.8,2010.5 514.0,2012.9 515.2,2015.9 516.4,2013.1 517.6,2015.9 518.8,2016.4 520.0,2018.6 521.2,2017.0 522.4,2047.5 523.6,2013.1 524.8,2018.5 526.0,2021.5 527.2,2020.7 528.4,2015.6 529.6,2015.8 530.8,2019.2 532.0,2019.2 533.2,2019.8 534.4,2018.9 535.6,2019.3 536.8,2022.5 538.0,2017.0 539.2,2016.1 540.4,2023.7 541.6,2018.5 542.8,2023.2 544.0,2019.3 545.2,2018.2 546.4,2027.2 547.6,2023.5 548.8,2020.5 550.0,2022.4 551.2,2049.0 552.4,2019.1 553.6,2018.6 554.8,2013.1 556.0,2015.0 557.2,2016.4 558.4,2016.1 559.6,2013.9 560.8,2011.6 562.0,2008.5 563.2,2019.2 564.4,2011.8 565.6,2014.9 566.8,2019.9 568.0,2024.8 569.2,2026.2 570.4,2022.7 571.6,2023.9 572.8,2029.1 574.0,2029.3 575.2,2019.9 576.4,2021.7 577.6,2014.3 578.8,2020.0 580.0,2021.6 581.2,2019.1 582.4,2026.0 583.6,2023.8 584.8,2023.5 586.0,2014.3 587.2,2020.2 588.4,2024.0 589.6,2020.3 590.8,2016.3 592.0,2021.5 593.2,2029.4 594.4,2028.4 595.6,2026.6 596.8,2019.9 598.0,2019.4 599.2,2003.9 600.4,2009.8 601.6,2055.0 602.8,2018.7 604.0,2017.4 605.2,2016.2 606.4,2012.3 607.6,2017.0 608.8,2018.5 610.0,2016.5 611.2,2023.5 612.4,2022.5 613.6,2018.6 614.8,2022.3 616.0,2018.8 617.2,2018.2 618.4,2014.3 619.6,2021.7 620.8,2008.4 622.0,2011.4 623.2,2013.7 624.4,2012.6 625.6,2003.4 626.8,2006.1 628.0,2010.2 629.2,2009.7 630.4,2011.6 631.6,2013.2 632.8,2012.8 634.0,2015.9 635.2,2007.5 636.4,2016.3 637.6,2013.0 638.8,2015.9 640.0,2013.6 641.2,2022.3 642.4,2011.6 643.6,2022.4 644.8,2019.3 646.0,2019.7 647.2,2024.1 648.4,2018.6 649.6,2020.4 650.8,2019.9 652.0,2011.6 653.2,2017.2 654.4,2013.9 655.6,2009.6 656.8,2011.2 658.0,2008.6 659.2,2011.9 660.4,2014.3 661.6,2015.6 662.8,2014.2 664.0,2012.8 665.2,2013.4 666.4,2013.6 667.6,2016.7 668.8,2020.4 670.0,2016.3 671.2,2014.8 672.4,2012.5 673.6,2016.3 674.8,2012.6 676.0,2007.4 677.2,2015.9 678.4,2016.1 679.6,2013.0 680.8,2010.1 682.0,2009.3 683.2,2004.8 684.4,2008.9 685.6,2008.3 686.8,2008.6 688.0,2007.7 689.2,2009.1 690.4,2009.6 691.6,2012.7 692.8,2004.7 694.0,2006.5 695.2,2004.6 696.4,2004.0 697.6,2009.7 698.8,2013.1 700.0,2007.0 701.2,2012.6 702.4,2011.0 703.6,2009.7 704.8,2011.6 706.0,2004.7 707.2,2010.3 708.4,2003.2 709.6,2004.8 710.8,1976.5 712.0,2004.9 713.2,2001.5 714.4,1999.4 715.6,1998.8 716.8,2003.4 718.0,2007.6 719.2,2006.0 720.4,2004.2 721.6,2002.3 722.8,2000.0 724.0,2000.8 725.2,1995.6 726.4,2001.3 727.6,2008.1 728.8,2007.1 730.0,2006.4 731.2,2003.6 732.4,2006.2 733.6,2004.5 734.8,2005.8 736.0,1998.6 737.2,1996.5 738.4,1997.2 739.6,1995.4 740.8,1999.6 742.0,1999.1 743.2,1998.5 744.4,2001.6 745.6,2005.5 746.8,2001.9 748.0,1994.5 749.2,1993.1 750.4,1993.4 751.6,1996.2 752.8,1994.9 754.0,1993.7 755.2,2000.3 756.4,1995.9 757.6,1995.3 758.8,1993.1 760.0,1994.3 761.2,1964.0 762.4,1994.0 763.6,1994.0 764.8,1994.2 766.0,1998.8 767.2,1993.0 768.4,1994.0 769.6,1991.6 770.8,1983.6 772.0,1983.7 773.2,1978.7 774.4,1988.5 775.6,1987.4 776.8,1983.7 778.0,1982.4 779.2,1981.7 780.4,1982.2 781.6,1985.9 782.8,1987.7 784.0,1987.0 785.2,1995.1 786.4,1994.2 787.6,1990.2 788.8,1998.3 790.0,1999.4 791.2,1962.5 792.4,1991.8 793.6,1984.6 794.8,1983.5 796.0,1977.8 797.2,1985.6 798.4,1995.3 799.6,1995.4 800.8,1989.7 802.0,1997.7 803.2,1997.0 804.4,1993.8 805.6,1982.8 806.8,1988.0 808.0,1981.2 809.2,1981.4 810.4,1986.3 811.6,1991.6 812.8,1987.9 814.0,1991.5 815.2,1991.6 816.4,1993.0 817.6,1987.3 818.8,1986.0 820.0,1987.0 821.2,1985.3 822.4,1988.9 823.6,1992.6 824.8,1990.9 826.0,1988.9 827.2,1977.5 828.4,1972.4 829.6,1975.0 830.8,1974.0 832.0,1981.2 833.2,1984.6 834.4,1992.6 835.6,1994.1 836.8,1989.9 838.0,1992.5 839.2,1984.4 840.4,1982.7 841.6,1938.5 842.8,1982.3 844.0,1985.5 845.2,1981.2 846.4,1987.7 847.6,1979.5 848.8,1985.0 850.0,1981.1 851.2,1984.7 852.4,1976.7 853.6,1978.6 854.8,1967.3 856.0,1976.6 857.2,1985.8 858.4,1983.5 859.6,1985.0 860.8,1986.9 862.0,1990.9 863.2,1979.7 864.4,1982.2 865.6,1980.4 866.8,1983.6 868.0,1979.0 869.2,1976.1 870.4,1975.9 871.6,1981.3 872.8,1978.6 874.0,1979.3 875.2,1970.7 876.4,1971.7 877.6,1971.7 878.8,1975.1 880.0,1975.4 881.2,1975.1 882.4,1974.1 883.6,1979.3 884.8,1977.8 886.0,1982.2 887.2,1985.0 888.4,1980.4 889.6,1976.9 890.8,1987.1 892.0,1981.0 893.2,1979.9 894.4,1977.7 895.6,1976.9 896.8,1975.9 898.0,1975.7 899.2,1969.7 900.4,1971.3 901.6,1972.5 902.8,1972.6 904.0,1972.0 905.2,1973.1 906.4,1967.8 907.6,1971.8 908.8,1974.1 910.0,1977.0 911.2,1976.5 912.4,1983.6 913.6,1977.0 914.8,1976.7 916.0,1971.0 917.2,1979.4 918.4,1972.3 919.6,1970.0 920.8,1966.8 922.0,1967.8 923.2,1965.3 924.4,1968.8 925.6,1965.8 926.8,1970.0 928.0,1972.8 929.2,1979.3 930.4,1978.7 931.6,1974.3 932.8,1966.6 934.0,1961.7 935.2,1961.5 936.4,1965.5 937.6,1965.6 938.8,1966.5 940.0,1962.1 941.2,1964.9 942.4,1963.5 943.6,1959.4 944.8,1968.1 946.0,1970.3 947.2,1971.0 948.4,2007.0 949.6,1973.5 950.8,1962.5 952.0,1969.9 953.2,1958.5 954.4,1963.6 955.6,1962.1 956.8,1961.3 958.0,1959.7 959.2,1957.9 960.4,1951.7 961.6,1951.8 962.8,1952.1 964.0,1955.6 965.2,1955.1 966.4,1952.2 967.6,1960.8 968.8,1955.4 970.0,1958.3 971.2,1957.4 972.4,1957.0 973.6,1960.7 974.8,1956.5 976.0,1953.7 977.2,1955.0 978.4,1952.7 979.6,1950.1 980.8,1957.1 982.0,1957.7 983.2,1949.7 984.4,1958.7 985.6,1959.3 986.8,1947.7 988.0,1951.2 989.2,1947.5 990.4,1950.7 991.6,1939.3 992.8,1949.9 994.0,1946.8 995.2,1950.1 996.4,1951.9 997.6,1942.8 998.8,1950.5 1000.0,1994.5 1001.2,1952.2 1002.4,1953.6 1003.6,1952.1 1004.8,1947.3 1006.0,1951.7 1007.2,1947.9 1008.4,1953.1 1009.6,1950.6 1010.8,1949.4 1012.0,1949.2 1013.2,1942.8 1014.4,1945.5 1015.6,1941.7 1016.8,1952.0 1018.0,1957.9 1019.2,1952.3 1020.4,1946.6 1021.6,1950.8 1022.8,1945.0 1024.0,1940.7 1025.2,1948.7 1026.4,1943.4 1027.6,1944.5 1028.8,1949.6 1030.0,1953.6 1031.2,1957.0 1032.4,1981.5 1033.6,1947.6 1034.8,1949.4 1036.0,1956.4 1037.2,1946.7 1038.4,1952.9 1039.6,1957.7 1040.8,1955.5 1042.0,1953.7 1043.2,1951.3 1044.4,1954.1 1045.6,1954.7 1046.8,1950.3 1048.0,1949.3 1049.2,1943.3 1050.4,1944.1 1051.6,1943.0 1052.8,1947.6 1054.0,1946.2 1055.2,1952.7 1056.4,1951.5 1057.6,1950.0 1058.8,1945.1 1060.0,1948.9 1061.2,1939.6 1062.4,1947.4 1063.6,1949.0 1064.8,1946.0 1066.0,1948.8 1067.2,1949.7 1068.4,1952.5 1069.6,1946.5 1070.8,1940.9 1072.0,1936.9 1073.2,1941.9 1074.4,1943.5 1075.6,1944.9 1076.8,1943.8 1078.0,1943.6 1079.2,1945.4 1080.4,1946.9 1081.6,1975.5 1082.8,1945.0 1084.0,1941.5 1085.2,1946.6 1086.4,1940.6 1087.6,1941.1 1088.8,1942.2 1090.0,1941.4 1091.2,1936.6 1092.4,1934.4 1093.6,1936.2 1094.8,1941.9 1096.0,1941.8 1097.2,1940.3 1098.4,1940.9 1099.6,1941.6 1100.8,1934.7 1102.0,1944.0 1103.2,1943.8 1104.4,1937.5 1105.6,1935.3 1106.8,1937.2 1108.0,1932.9 1109.2,1937.8 1110.4,1936.8 1111.6,1941.8 1112.8,1944.0 1114.0,1954.1 1115.2,1945.3 1116.4,1946.3 1117.6,1941.6 1118.8,1945.1 1120.0,1941.0 1121.2,1932.4 1122.4,1933.6 1123.6,1937.0 1124.8,1933.8 1126.0,1936.6 1127.2,1934.4 1128.4,1929.8 1129.6,1931.5 1130.8,1934.5 1132.0,1933.5 1133.2,1934.8 1134.4,1936.1 1135.6,1933.2 1136.8,1935.6 1138.0,1925.7 1139.2,1929.0 1140.4,1927.2 1141.6,1931.9 1142.8,1935.2 1144.0,1936.3 1145.2,1936.0 1146.4,1935.8 1147.6,1934.7 1148.8,1932.0 1150.0,1934.6 1151.2,1935.0 1152.4,1934.4 1153.6,1932.3 1154.8,1932.0 1156.0,1924.8 1157.2,1928.7 1158.4,1931.1 1159.6,1935.1 1160.8,1934.8 1162.0,1930.8 1163.2,1926.2 1164.4,1930.2 1165.6,1931.1 1166.8,1931.2 1168.0,1927.6 1169.2,1927.2 1170.4,1928.5 1171.6,1927.9 1172.8,1933.8 1174.0,1931.4 1175.2,1936.6 1176.4,1934.9 1177.6,1932.8 1178.8,1927.6 1180.0,1931.2 1181.2,1929.9 1182.4,1923.6 1183.6,1923.3 1184.8,1924.2 1186.0,1930.3 1187.2,1926.0 1188.4,1923.7 1189.6,1928.9 1190.8,1931.1 1192.0,1924.2 1193.2,1931.9 1194.4,1922.1 1195.6,1927.7 1196.8,1927.7 1198.0,1924.6 1199.2,1927.6 1200.4,1929.2 1201.6,1927.6 1202.8,1929.1 1204.0,1925.2 1205.2,1918.0 1206.4,1923.2 1207.6,1920.9 1208.8,1925.1 1210.0,1928.0 1211.2,1927.0 1212.4,1929.0 1213.6,1924.3 1214.8,1921.6 1216.0,1927.2 1217.2,1923.9 1218.4,1920.8 1219.6,1920.8 1220.8,1919.0 1222.0,1919.1 1223.2,1914.3 1224.4,1920.9 1225.6,1919.4 1226.8,1910.2 1228.0,1915.4 1229.2,1919.5 1230.4,1919.0 1231.6,1914.8 1232.8,1922.6 1234.0,1916.2 1235.2,1921.4 1236.4,1920.3 1237.6,1923.0 1238.8,1915.3 1240.0,1923.0 1241.2,1913.9 1242.4,1891.0 1243.6,1921.5 1244.8,1919.5 1246.0,1914.3 1247.2,1921.9 1248.4,1918.9 1249.6,1910.9 1250.8,1906.7 1252.0,1911.2 1253.2,1909.2 1254.4,1912.6 1255.6,1909.8 1256.8,1909.8 1258.0,1906.8 1259.2,1910.6 1260.4,1905.5 1261.6,1904.4 1262.8,1903.4 1264.0,1914.1 1265.2,1912.4 1266.4,1908.5 1267.6,1910.1 1268.8,1910.6 1270.0,1880.0 1271.2,1907.3 1272.4,1913.8 1273.6,1918.6 1274.8,1918.4 1276.0,1919.7 1277.2,1923.4 1278.4,1915.1 1279.6,1915.4 1280.8,1919.1 1282.0,1919.4 1283.2,1914.2 1284.4,1910.8 1285.6,1907.2 1286.8,1912.0 1288.0,1910.7 1289.2,1905.8 1290.4,1907.1 1291.6,1905.4 1292.8,1909.8 1294.0,1907.2 1295.2,1911.1 1296.4,1910.9 1297.6,1906.9 1298.8,1908.7 1300.0,1907.4 1301.2,1907.7 1302.4,1900.5 1303.6,1902.7 1304.8,1904.9 1306.0,1899.2 1307.2,1893.8 1308.4,1893.7 1309.6,1897.8 1310.8,1890.8 1312.0,1895.3 1313.2,1905.1 1314.4,1903.9 1315.6,1900.0 1316.8,1899.6 1318.0,1904.1 1319.2,1901.8 1320.4,1907.8 1321.6,1858.0 1322.8,1897.1 1324.0,1898.0 1325.2,1896.5 1326.4,1903.7 1327.6,1897.7 1328.8,1904.5 1330.0,1901.6 1331.2,1906.8 1332.4,1901.3 1333.6,1905.2 1334.8,1896.8 1336.0,1901.5 1337.2,1900.4 1338.4,1906.0 1339.6,1901.9 1340.8,1903.6 1342.0,1898.5 1343.2,1895.8 1344.4,1898.5 1345.6,1901.8 1346.8,1896.9 1348.0,1901.0 1349.2,1894.4 1350.4,1895.1 1351.6,1896.0 1352.8,1897.2 1354.0,1896.6 1355.2,1898.0 1356.4,1896.2 1357.6,1895.4 1358.8,1903.1 1360.0,1901.9 1361.2,1899.2 1362.4,1899.1 1363.6,1897.1 1364.8,1904.5 1366.0,1900.8 1367.2,1905.0 1368.4,1890.2 1369.6,1893.0 1370.8,1892.0 1372.0,1887.2 1373.2,1896.6 1374.4,1895.2 1375.6,1895.2 1376.8,1887.2 1378.0,1890.6 1379.2,1888.8 1380.4,1886.3 1381.6,1891.4 1382.8,1887.1 1384.0,1879.2 1385.2,1887.3 1386.4,1895.0 1387.6,1891.2 1388.8,1898.6 1390.0,1895.0 1391.2,1893.2 1392.4,1881.3 1393.6,1880.3 1394.8,1883.3 1396.0,1882.4 1397.2,1877.7 1398.4,1884.8 1399.6,1883.0 1400.8,1869.0 1402.0,1873.2 1403.2,1879.8 1404.4,1875.0 1405.6,1877.3 1406.8,1878.9 1408.0,1875.4 1411.0,1868.0 1414.0,1855.0 1416.0,1800.0 1417.0,1755.0 1419.0,1620.0 1421.0,1488.0 1422.0,1400.0 1456.8,1400.0 1457.0,2500.0" fill="none" stroke="#00f" stroke-width="8.5" stroke-linejoin="round" stroke-linecap="round"/>
</g>
<polygon points="1104.0,2058.2 1140.4,2079.6 1123.5,2081.0 1117.0,2098.4" fill="#f0f"/><path d="M1122.3,2079.4 L1131.9,2092.2" stroke="#f0f" stroke-width="2.6"/>
<polygon points="1202.0,1998.2 1238.4,2019.6 1221.5,2021.0 1215.0,2038.4" fill="#f0f"/><path d="M1220.3,2019.4 L1229.9,2032.2" stroke="#f0f" stroke-width="2.6"/>
<polygon points="1330.0,1827.0 1366.4,1848.4 1349.5,1849.8 1343.0,1867.2" fill="#f0f"/><path d="M1348.3,1848.2 L1357.9,1861.0" stroke="#f0f" stroke-width="2.6"/>
<polygon points="1418.0,1885.1 1454.4,1906.5 1437.5,1907.9 1431.0,1925.3" fill="#f0f"/><path d="M1436.3,1906.3 L1445.9,1919.1" stroke="#f0f" stroke-width="2.6"/>
<g font-family='"Liberation Sans", Arial, sans-serif' font-size="44.7" fill="#262626">
<text x="242.8" y="2500" text-anchor="middle">-50</text>
<text x="651.3" y="2500" text-anchor="middle">0</text>
<text x="1059.8" y="2500" text-anchor="middle">50</text>
<text x="1468.3" y="2500" text-anchor="middle">100</text>
<text x="225.9" y="2307.8" text-anchor="end">0.01</text>
<text x="225.9" y="2147.1" text-anchor="end">0.02</text>
<text x="225.9" y="1986.3" text-anchor="end">0.03</text>
<text x="225.9" y="1825.5" text-anchor="end">0.04</text>
<text x="225.9" y="1664.8" text-anchor="end">0.05</text>
</g>
<text x="545.8" y="2569" font-family='"Liberation Sans", Arial, sans-serif' font-size="52.6" fill="#262626">Time after oil supply off (s)</text>
<text transform="translate(114.3,2190.4) rotate(-90)" font-family='"Liberation Sans", Arial, sans-serif' font-size="52.3" fill="#262626">Coeffient of Friction</text>
<text x="270.3" y="1557.9" font-family='"Liberation Sans", Arial, sans-serif' font-size="53.9" font-weight="bold" fill="#000">B</text>
<rect x="324.5" y="1574.5" width="597" height="217.8" fill="#fff" stroke="#262626" stroke-width="3"/>
<path d="M347,1605.4 H461" stroke="#000" stroke-width="8.8"/>
<text x="468.2" y="1620.6" font-family='"Liberation Sans", Arial, sans-serif' font-size="40.5" fill="#000">85734</text>
<path d="M347,1657.4 H461" stroke="#f00" stroke-width="8.8"/>
<text x="468.2" y="1672.6" font-family='"Liberation Sans", Arial, sans-serif' font-size="40.5" fill="#000">85734+0.02%NG</text>
<path d="M347,1709.4 H461" stroke="#0f0" stroke-width="8.8"/>
<text x="468.2" y="1724.6" font-family='"Liberation Sans", Arial, sans-serif' font-size="40.5" fill="#000">85734+1%IL</text>
<path d="M347,1761.4 H461" stroke="#00f" stroke-width="8.8"/>
<text x="468.2" y="1776.6" font-family='"Liberation Sans", Arial, sans-serif' font-size="40.5" fill="#000">85734+0.02%NG+1%IL</text>
<text transform="translate(780.7,1348.75) scale(0.937,1)" font-family='"Liberation Serif", "Times New Roman", serif' font-size="86.9" font-weight="bold" fill="#000"><tspan font-weight="normal">(</tspan>a<tspan font-weight="normal">)</tspan></text>
<text transform="translate(776.6,2695.8) scale(0.98,1)" font-family='"Liberation Serif", "Times New Roman", serif' font-size="86.9" font-weight="bold" fill="#000"><tspan font-weight="normal">(</tspan>b<tspan font-weight="normal">)</tspan></text>
</svg>
</body></html>
